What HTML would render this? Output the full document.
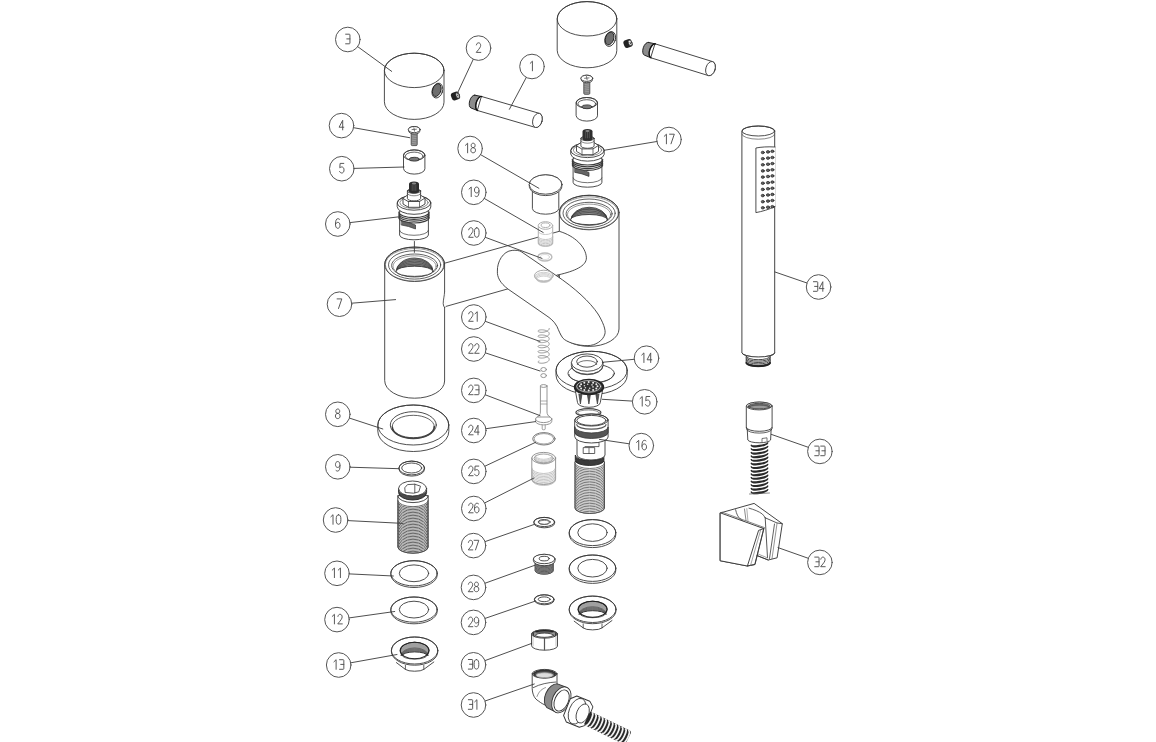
<!DOCTYPE html>
<html><head><meta charset="utf-8"><style>
html,body{margin:0;padding:0;background:#fff;font-family:"Liberation Sans",sans-serif;overflow:hidden;}
svg{display:block;}
</style></head><body>
<svg width="1156" height="742" viewBox="0 0 1156 742" stroke-linecap="round" stroke-linejoin="round">
<rect width="1156" height="742" fill="#fff"/>
<path d="M384.4,70.4 A29.8,17.2 0 0 1 444,70.4 L444,102.2 A29.8,17.2 0 0 1 384.4,102.2 Z" fill="#fff" stroke="#3a3a3a" stroke-width="0.9" />
<ellipse cx="414.2" cy="70.4" rx="29.8" ry="17.2" fill="none" stroke="#3a3a3a" stroke-width="0.9"/>
<g transform="translate(437.4,90.6) rotate(18)"><ellipse rx="5.2" ry="7.6" fill="#fff" stroke="#3a3a3a" stroke-width="0.9"/><ellipse cx="-0.7" cy="-0.3" rx="4.1" ry="6.6" fill="#6e6e6e" stroke="#222" stroke-width="0.9"/></g>
<path d="M557.2,18.8 A29.8,17.2 0 0 1 616.8,18.8 L616.8,50.6 A29.8,17.2 0 0 1 557.2,50.6 Z" fill="#fff" stroke="#3a3a3a" stroke-width="0.9" />
<ellipse cx="587" cy="18.8" rx="29.8" ry="17.2" fill="none" stroke="#3a3a3a" stroke-width="0.9"/>
<g transform="translate(610.2,39) rotate(18)"><ellipse rx="5.2" ry="7.6" fill="#fff" stroke="#3a3a3a" stroke-width="0.9"/><ellipse cx="-0.7" cy="-0.3" rx="4.1" ry="6.6" fill="#6e6e6e" stroke="#222" stroke-width="0.9"/></g>
<g transform="translate(455.5,96) rotate(-20)"><rect x="-4.3" y="-4" width="8.6" height="8" rx="2.8" fill="#222"/><ellipse cx="2.2" cy="0.2" rx="1.7" ry="2.9" fill="#eee" stroke="#222" stroke-width="0.6"/><ellipse cx="2.3" cy="0.4" rx="0.6" ry="1.2" fill="#444"/></g>
<g transform="translate(628,43.5) rotate(-20)"><rect x="-4.3" y="-4" width="8.6" height="8" rx="2.8" fill="#222"/><ellipse cx="2.2" cy="0.2" rx="1.7" ry="2.9" fill="#eee" stroke="#222" stroke-width="0.6"/><ellipse cx="2.3" cy="0.4" rx="0.6" ry="1.2" fill="#444"/></g>
<g transform="translate(473,101.6) rotate(16.27)"><path d="M7,-7.3 L67.1,-7.3 A4.6,7.3 0 0 1 67.1,7.3 L7,7.3 Z" fill="#fff" stroke="#3a3a3a" stroke-width="0.85"/><ellipse cx="67.1" cy="0" rx="4.6" ry="7.3" fill="#fff" stroke="#3a3a3a" stroke-width="0.85"/><path d="M0,-6.7 L7,-7.3 A3.6,7.3 0 0 0 7,7.3 L0,6.7 A3.4,6.7 0 0 1 0,-6.7 Z" fill="#8c8c8c" stroke="#222" stroke-width="0.9"/><path d="M7,-7.3 A3.6,7.3 0 0 0 7,7.3" fill="none" stroke="#111" stroke-width="1.3"/></g>
<g transform="translate(646.5,48.8) rotate(17.19)"><path d="M7,-7.3 L67,-7.3 A4.6,7.3 0 0 1 67,7.3 L7,7.3 Z" fill="#fff" stroke="#3a3a3a" stroke-width="0.85"/><ellipse cx="67" cy="0" rx="4.6" ry="7.3" fill="#fff" stroke="#3a3a3a" stroke-width="0.85"/><path d="M0,-6.7 L7,-7.3 A3.6,7.3 0 0 0 7,7.3 L0,6.7 A3.4,6.7 0 0 1 0,-6.7 Z" fill="#8c8c8c" stroke="#222" stroke-width="0.9"/><path d="M7,-7.3 A3.6,7.3 0 0 0 7,7.3" fill="none" stroke="#111" stroke-width="1.3"/></g>
<rect x="411.2" y="132.6" width="6" height="13" rx="1" fill="#9a9a9a" stroke="#3a3a3a" stroke-width="0.8"/>
<line x1="411.7" y1="134.6" x2="416.7" y2="135.4" stroke="#666" stroke-width="0.5"/>
<line x1="411.7" y1="136.8" x2="416.7" y2="137.6" stroke="#666" stroke-width="0.5"/>
<line x1="411.7" y1="139" x2="416.7" y2="139.8" stroke="#666" stroke-width="0.5"/>
<line x1="411.7" y1="141.2" x2="416.7" y2="142" stroke="#666" stroke-width="0.5"/>
<line x1="411.7" y1="143.4" x2="416.7" y2="144.2" stroke="#666" stroke-width="0.5"/>
<path d="M408.3,129.6 A5.9,3.1 0 0 1 420.1,129.6 L419.7,131.4 A5.5,2.6 0 0 1 408.7,131.4 Z" fill="#fff" stroke="#3a3a3a" stroke-width="0.9" />
<ellipse cx="414.2" cy="129.6" rx="5.9" ry="3.1" fill="#fff" stroke="#3a3a3a" stroke-width="0.9"/>
<line x1="412" y1="129.6" x2="416.4" y2="129.2" stroke="#555" stroke-width="0.8"/>
<line x1="413.9" y1="127.8" x2="414.5" y2="131.2" stroke="#555" stroke-width="0.8"/>
<rect x="583.8" y="81.3" width="6" height="13" rx="1" fill="#9a9a9a" stroke="#3a3a3a" stroke-width="0.8"/>
<line x1="584.3" y1="83.3" x2="589.3" y2="84.1" stroke="#666" stroke-width="0.5"/>
<line x1="584.3" y1="85.5" x2="589.3" y2="86.3" stroke="#666" stroke-width="0.5"/>
<line x1="584.3" y1="87.7" x2="589.3" y2="88.5" stroke="#666" stroke-width="0.5"/>
<line x1="584.3" y1="89.9" x2="589.3" y2="90.7" stroke="#666" stroke-width="0.5"/>
<line x1="584.3" y1="92.1" x2="589.3" y2="92.9" stroke="#666" stroke-width="0.5"/>
<path d="M580.9,78.3 A5.9,3.1 0 0 1 592.7,78.3 L592.3,80.1 A5.5,2.6 0 0 1 581.3,80.1 Z" fill="#fff" stroke="#3a3a3a" stroke-width="0.9" />
<ellipse cx="586.8" cy="78.3" rx="5.9" ry="3.1" fill="#fff" stroke="#3a3a3a" stroke-width="0.9"/>
<line x1="584.6" y1="78.3" x2="589" y2="77.9" stroke="#555" stroke-width="0.8"/>
<line x1="586.5" y1="76.5" x2="587.1" y2="79.9" stroke="#555" stroke-width="0.8"/>
<path d="M403.5,155.2 A10.7,5.3 0 0 1 424.9,155.2 L424.9,168.8 A10.7,5.3 0 0 1 403.5,168.8 Z" fill="#fff" stroke="#3a3a3a" stroke-width="0.9" />
<ellipse cx="414.2" cy="155.2" rx="10.7" ry="5.3" fill="none" stroke="#3a3a3a" stroke-width="0.9"/>
<ellipse cx="414.2" cy="156.2" rx="8.9" ry="4.1" fill="none" stroke="#3a3a3a" stroke-width="0.8"/>
<ellipse cx="414.2" cy="159.2" rx="5" ry="1.9" fill="#777" stroke="#333" stroke-width="0.9"/>
<path d="M576.1,102.8 A10.7,5.3 0 0 1 597.5,102.8 L597.5,115.8 A10.7,5.3 0 0 1 576.1,115.8 Z" fill="#fff" stroke="#3a3a3a" stroke-width="0.9" />
<ellipse cx="586.8" cy="102.8" rx="10.7" ry="5.3" fill="none" stroke="#3a3a3a" stroke-width="0.9"/>
<ellipse cx="586.8" cy="103.8" rx="8.9" ry="4.1" fill="none" stroke="#3a3a3a" stroke-width="0.8"/>
<ellipse cx="586.8" cy="106.8" rx="5" ry="1.9" fill="#777" stroke="#333" stroke-width="0.9"/>
<path d="M399.6,211.5 L399.6,235 A14.4,4.8 0 0 0 428.4,235 L428.4,211.5 Z" fill="#fff" stroke="#3a3a3a" stroke-width="0.9" />
<path d="M399.6,230.5 A14.4,4.8 0 0 0 428.4,230.5" fill="none" stroke="#3a3a3a" stroke-width="0.7" />
<path d="M398.8,212 A15.2,5.6 0 0 0 429.2,212 M398.8,213.8 A15.2,5.6 0 0 0 429.2,213.8 M398.8,215.6 A15.2,5.6 0 0 0 429.2,215.6 M398.8,217.4 A15.2,5.6 0 0 0 429.2,217.4 " fill="none" stroke="#3a3a3a" stroke-width="1.2" />
<path d="M401.5,221 l7,1.5 l7,2.5 l0,4 l-7,-2.5 l-7,-1.5 Z" fill="#666" stroke="#333" stroke-width="0.7"/>
<path d="M397.2,202.9 A16.75,7.3 0 0 1 430.8,202.9 L430.8,207 A16.75,7.3 0 0 1 397.2,207 Z" fill="#fff" stroke="#3a3a3a" stroke-width="0.9" />
<ellipse cx="414" cy="202.9" rx="16.8" ry="7.3" fill="none" stroke="#3a3a3a" stroke-width="0.9"/>
<ellipse cx="414" cy="202.7" rx="14.2" ry="5.8" fill="none" stroke="#666" stroke-width="0.7"/>
<path d="M403,198 L403,204 L408.5,207.3 L419.5,207.3 L425,204 L425,198 Z" fill="#fff" stroke="#3a3a3a" stroke-width="0.9" />
<path d="M403,198 L408.5,194.5 L419.5,194.5 L425,198 L419.5,201.5 L408.5,201.5 Z" fill="#fff" stroke="#3a3a3a" stroke-width="0.9" />
<line x1="408.5" y1="201.5" x2="408.5" y2="207.3" stroke="#3a3a3a" stroke-width="0.7"/>
<line x1="419.5" y1="201.5" x2="419.5" y2="207.3" stroke="#3a3a3a" stroke-width="0.7"/>
<path d="M407.4,191 L407.4,198.5 A6.6,2.4 0 0 0 420.6,198.5 L420.6,191 Z" fill="#fff" stroke="#3a3a3a" stroke-width="0.9" />
<ellipse cx="414" cy="191" rx="6.6" ry="2.3" fill="none" stroke="#3a3a3a" stroke-width="0.9"/>
<path d="M407.4,193.5 A6.6,2.3 0 0 0 420.6,193.5" fill="none" stroke="#3a3a3a" stroke-width="0.6" />
<path d="M409,184 Q409,181.5 414,181.5 Q419,181.5 419,184 L419,191.5 A5,1.8 0 0 1 409,191.5 Z" fill="#2e2e2e"/>
<ellipse cx="414" cy="183.5" rx="2.2" ry="1" fill="#888"/>
<line x1="412.2" y1="185" x2="412.2" y2="190.5" stroke="#777" stroke-width="0.5"/>
<line x1="414" y1="185" x2="414" y2="190.5" stroke="#777" stroke-width="0.5"/>
<line x1="415.8" y1="185" x2="415.8" y2="190.5" stroke="#777" stroke-width="0.5"/>
<path d="M573.1,158.9 L573.1,182.4 A14.4,4.8 0 0 0 601.9,182.4 L601.9,158.9 Z" fill="#fff" stroke="#3a3a3a" stroke-width="0.9" />
<path d="M573.1,177.9 A14.4,4.8 0 0 0 601.9,177.9" fill="none" stroke="#3a3a3a" stroke-width="0.7" />
<path d="M572.3,159.4 A15.2,5.6 0 0 0 602.7,159.4 M572.3,161.2 A15.2,5.6 0 0 0 602.7,161.2 M572.3,163 A15.2,5.6 0 0 0 602.7,163 M572.3,164.8 A15.2,5.6 0 0 0 602.7,164.8 " fill="none" stroke="#3a3a3a" stroke-width="1.2" />
<path d="M575,168.4 l7,1.5 l7,2.5 l0,4 l-7,-2.5 l-7,-1.5 Z" fill="#666" stroke="#333" stroke-width="0.7"/>
<path d="M570.8,150.3 A16.75,7.3 0 0 1 604.2,150.3 L604.2,154.4 A16.75,7.3 0 0 1 570.8,154.4 Z" fill="#fff" stroke="#3a3a3a" stroke-width="0.9" />
<ellipse cx="587.5" cy="150.3" rx="16.8" ry="7.3" fill="none" stroke="#3a3a3a" stroke-width="0.9"/>
<ellipse cx="587.5" cy="150.1" rx="14.2" ry="5.8" fill="none" stroke="#666" stroke-width="0.7"/>
<path d="M576.5,145.4 L576.5,151.4 L582,154.7 L593,154.7 L598.5,151.4 L598.5,145.4 Z" fill="#fff" stroke="#3a3a3a" stroke-width="0.9" />
<path d="M576.5,145.4 L582,141.9 L593,141.9 L598.5,145.4 L593,148.9 L582,148.9 Z" fill="#fff" stroke="#3a3a3a" stroke-width="0.9" />
<line x1="582" y1="148.9" x2="582" y2="154.7" stroke="#3a3a3a" stroke-width="0.7"/>
<line x1="593" y1="148.9" x2="593" y2="154.7" stroke="#3a3a3a" stroke-width="0.7"/>
<path d="M580.9,138.4 L580.9,145.9 A6.6,2.4 0 0 0 594.1,145.9 L594.1,138.4 Z" fill="#fff" stroke="#3a3a3a" stroke-width="0.9" />
<ellipse cx="587.5" cy="138.4" rx="6.6" ry="2.3" fill="none" stroke="#3a3a3a" stroke-width="0.9"/>
<path d="M580.9,140.9 A6.6,2.3 0 0 0 594.1,140.9" fill="none" stroke="#3a3a3a" stroke-width="0.6" />
<path d="M582.5,131.4 Q582.5,128.9 587.5,128.9 Q592.5,128.9 592.5,131.4 L592.5,138.9 A5,1.8 0 0 1 582.5,138.9 Z" fill="#2e2e2e"/>
<ellipse cx="587.5" cy="130.9" rx="2.2" ry="1" fill="#888"/>
<line x1="585.7" y1="132.4" x2="585.7" y2="137.9" stroke="#777" stroke-width="0.5"/>
<line x1="587.5" y1="132.4" x2="587.5" y2="137.9" stroke="#777" stroke-width="0.5"/>
<line x1="589.3" y1="132.4" x2="589.3" y2="137.9" stroke="#777" stroke-width="0.5"/>
<path d="M377.8,425 A35.5,20 0 0 1 448.8,425 L448.8,431.5 A35.5,20 0 0 1 377.8,431.5 Z" fill="#fff" stroke="#3a3a3a" stroke-width="0.9" />
<ellipse cx="413.3" cy="425" rx="35.5" ry="20" fill="none" stroke="#3a3a3a" stroke-width="0.9"/>
<ellipse cx="413.3" cy="425" rx="23" ry="13.3" fill="none" stroke="#3a3a3a" stroke-width="0.9"/>
<path d="M392.3,427 A21,11.5 0 0 0 434.3,427" fill="none" stroke="#444" stroke-width="1.6" />
<ellipse cx="413.3" cy="426.5" rx="21" ry="11.2" fill="none" stroke="#3a3a3a" stroke-width="0.8"/>
<path d="M398.9,468 A12.8,6.9 0 0 1 424.5,468 L424.5,469.2 A12.8,6.9 0 0 1 398.9,469.2 Z" fill="#fff" stroke="#3a3a3a" stroke-width="0.9" />
<ellipse cx="411.7" cy="468" rx="12.8" ry="6.9" fill="none" stroke="#3a3a3a" stroke-width="0.9"/>
<ellipse cx="411.7" cy="468" rx="10" ry="5" fill="none" stroke="#3a3a3a" stroke-width="0.9"/>
<path d="M397.8,496 L397.8,547 A15.2,6.2 0 0 0 428.2,547 L428.2,496 Z" fill="#fff" stroke="#3a3a3a" stroke-width="0.9" />
<path d="M397.8,500.5 A15.2,6.2 0 0 0 428.2,500.5 M397.8,502 A15.2,6.2 0 0 0 428.2,502 M397.8,503.5 A15.2,6.2 0 0 0 428.2,503.5 M397.8,505 A15.2,6.2 0 0 0 428.2,505 M397.8,506.5 A15.2,6.2 0 0 0 428.2,506.5 M397.8,508 A15.2,6.2 0 0 0 428.2,508 M397.8,509.5 A15.2,6.2 0 0 0 428.2,509.5 M397.8,511 A15.2,6.2 0 0 0 428.2,511 M397.8,512.5 A15.2,6.2 0 0 0 428.2,512.5 M397.8,514 A15.2,6.2 0 0 0 428.2,514 M397.8,515.5 A15.2,6.2 0 0 0 428.2,515.5 M397.8,517 A15.2,6.2 0 0 0 428.2,517 M397.8,518.5 A15.2,6.2 0 0 0 428.2,518.5 M397.8,520 A15.2,6.2 0 0 0 428.2,520 M397.8,521.5 A15.2,6.2 0 0 0 428.2,521.5 M397.8,523 A15.2,6.2 0 0 0 428.2,523 M397.8,524.5 A15.2,6.2 0 0 0 428.2,524.5 M397.8,526 A15.2,6.2 0 0 0 428.2,526 M397.8,527.5 A15.2,6.2 0 0 0 428.2,527.5 M397.8,529 A15.2,6.2 0 0 0 428.2,529 M397.8,530.5 A15.2,6.2 0 0 0 428.2,530.5 M397.8,532 A15.2,6.2 0 0 0 428.2,532 M397.8,533.5 A15.2,6.2 0 0 0 428.2,533.5 M397.8,535 A15.2,6.2 0 0 0 428.2,535 M397.8,536.5 A15.2,6.2 0 0 0 428.2,536.5 M397.8,538 A15.2,6.2 0 0 0 428.2,538 M397.8,539.5 A15.2,6.2 0 0 0 428.2,539.5 M397.8,541 A15.2,6.2 0 0 0 428.2,541 M397.8,542.5 A15.2,6.2 0 0 0 428.2,542.5 M397.8,544 A15.2,6.2 0 0 0 428.2,544 M397.8,545.5 A15.2,6.2 0 0 0 428.2,545.5 M397.8,547 A15.2,6.2 0 0 0 428.2,547 " fill="none" stroke="#4a4a4a" stroke-width="0.85" />
<path d="M397.8,496 A15.2,6.6 0 0 0 428.2,496" fill="none" stroke="#3a3a3a" stroke-width="0.9" />
<path d="M398.6,488.5 L398.6,492.5 A14,7.5 0 0 0 426.6,492.5 L426.6,488.5 A14,7.5 0 0 1 398.6,488.5 Z" fill="#4a4a4a" stroke="#222" stroke-width="0.9" />
<ellipse cx="412.6" cy="488.5" rx="14" ry="7.5" fill="#fff" stroke="#3a3a3a" stroke-width="0.9"/>
<path d="M405,487.5 L407.5,484.6 L414.8,484.2 L420.5,486.2 L418.8,491.8 L413.5,493.2 L405.6,492.5 Z" fill="#fff" stroke="#333" stroke-width="0.8"/>
<line x1="414.8" y1="484.2" x2="414.8" y2="492.8" stroke="#3a3a3a" stroke-width="0.8"/>
<path d="M390.8,573.3 A23.2,12.6 0 0 1 437.2,573.3 L437.2,574.9 A23.2,12.6 0 0 1 390.8,574.9 Z" fill="#fff" stroke="#3a3a3a" stroke-width="0.9" />
<ellipse cx="414" cy="573.3" rx="23.2" ry="12.6" fill="none" stroke="#3a3a3a" stroke-width="0.9"/>
<ellipse cx="414" cy="573.3" rx="14.7" ry="8.4" fill="none" stroke="#3a3a3a" stroke-width="0.9"/>
<path d="M390.8,609.6 A23.2,12.6 0 0 1 437.2,609.6 L437.2,611.2 A23.2,12.6 0 0 1 390.8,611.2 Z" fill="#fff" stroke="#3a3a3a" stroke-width="0.9" />
<ellipse cx="414" cy="609.6" rx="23.2" ry="12.6" fill="none" stroke="#3a3a3a" stroke-width="0.9"/>
<ellipse cx="414" cy="609.6" rx="14.7" ry="8.4" fill="none" stroke="#3a3a3a" stroke-width="0.9"/>
<path d="M396.4,662.6 L405.4,669.4 A10,3 0 0 0 423.8,669.4 L433.8,662 Z" fill="#fff"/>
<path d="M396.4,662.6 L405.4,669.4 A10,3 0 0 0 423.8,669.4 L433.8,662" fill="none" stroke="#3a3a3a" stroke-width="0.9" />
<line x1="405.4" y1="665.4" x2="405.4" y2="669.4" stroke="#3a3a3a" stroke-width="0.8"/>
<line x1="423.8" y1="665.4" x2="423.8" y2="669.4" stroke="#3a3a3a" stroke-width="0.8"/>
<path d="M391.4,650.5 A23.2,13.5 0 0 1 437.8,650.5 L437.8,651.7 A23.2,13.5 0 0 1 391.4,651.7 Z" fill="#fff" stroke="#3a3a3a" stroke-width="0.9" />
<ellipse cx="414.6" cy="650.5" rx="23.2" ry="13.5" fill="none" stroke="#3a3a3a" stroke-width="0.9"/>
<path d="M400.2,650.5 A14.4,8.3 0 0 1 429,650.5 L427,655.5 A12.4,3.6 0 0 0 402.2,655.5 Z" fill="#a0a0a0" stroke="#222" stroke-width="0.9" />
<path d="M401.9,655.5 A12.7,4.6 0 0 1 427.3,655.5" fill="none" stroke="#444" stroke-width="0.6"/>
<path d="M401.5,655.5 A13.1,5.6 0 0 1 427.7,655.5" fill="none" stroke="#444" stroke-width="0.6"/>
<path d="M401.2,655.5 A13.4,6.6 0 0 1 428,655.5" fill="none" stroke="#444" stroke-width="0.6"/>
<path d="M400.8,655.5 A13.8,7.6 0 0 1 428.4,655.5" fill="none" stroke="#444" stroke-width="0.6"/>
<ellipse cx="414.6" cy="650.5" rx="14.4" ry="8.3" fill="none" stroke="#222" stroke-width="1.1"/>
<path d="M402.2,655.5 A12.4,3.6 0 0 0 427,655.5" fill="none" stroke="#3a3a3a" stroke-width="0.8" />
<path d="M532.4,192 L532.4,208.5 A13.2,5.7 0 0 0 558.8,208.5 L558.8,192" fill="#fff" stroke="#3a3a3a" stroke-width="0.9" />
<path d="M529.2,184.5 A16.4,9.7 0 0 1 562,184.5 L561.6,188 A16.2,9 0 0 1 529.6,188 Z" fill="#fff" stroke="#3a3a3a" stroke-width="0.9" />
<ellipse cx="545.6" cy="184.5" rx="16.4" ry="9.7" fill="#fff" stroke="#3a3a3a" stroke-width="0.9"/>
<path d="M559.3,212.6 A29.85,17.4 0 0 1 619,212.6 L619,329 A29.85,17.4 0 0 1 559.3,329 Z" fill="#fff" stroke="#3a3a3a" stroke-width="0.9" />
<ellipse cx="589.1" cy="212.6" rx="29.9" ry="17.2" fill="none" stroke="#3a3a3a" stroke-width="0.9"/>
<ellipse cx="589.1" cy="213.1" rx="29.2" ry="16.3" fill="none" stroke="#555" stroke-width="0.6"/>
<ellipse cx="589.1" cy="213.2" rx="26.1" ry="14.2" fill="none" stroke="#3a3a3a" stroke-width="0.8"/>
<ellipse cx="589.1" cy="213.8" rx="23" ry="11.5" fill="none" stroke="#3a3a3a" stroke-width="0.8"/>
<ellipse cx="589.1" cy="214.5" rx="21.6" ry="10.4" fill="none" stroke="#555" stroke-width="0.6"/>
<path d="M570.8,219.6 A18.4,13.3 0 0 1 607.5,219.6 A18.4,5.1 0 0 0 570.8,219.6 Z" fill="#8a8a8a" stroke="#333" stroke-width="0.8" />
<path d="M570.8,219.6 A18.4,11.9 0 0 1 607.5,219.6" fill="none" stroke="#333" stroke-width="0.6"/>
<path d="M570.9,219.6 A18.2,10.3 0 0 1 607.4,219.6" fill="none" stroke="#333" stroke-width="0.6"/>
<path d="M571,219.6 A18.1,8.7 0 0 1 607.2,219.6" fill="none" stroke="#333" stroke-width="0.6"/>
<path d="M571.2,219.6 A17.9,7.1 0 0 1 607.1,219.6" fill="none" stroke="#333" stroke-width="0.6"/>
<path d="M571.4,219.6 A17.8,5.5 0 0 1 606.9,219.6" fill="none" stroke="#333" stroke-width="0.6"/>
<ellipse cx="589.1" cy="219.6" rx="18.4" ry="5.1" fill="#fff" stroke="#3a3a3a" stroke-width="0.9"/>
<path d="M440,264.5 L559.3,231.3 C575,236 586,247 586.4,257.8 C586.5,266 575,271 558.2,274.9 L507.8,288.9 L440,308.1 Z" fill="#fff" stroke="#3a3a3a" stroke-width="0.9" />
<line x1="558.2" y1="274.9" x2="559.5" y2="277.5" stroke="#3a3a3a" stroke-width="0.8"/>
<ellipse cx="544.9" cy="257" rx="7" ry="4" fill="none" stroke="#bbb" stroke-width="1.4"/>
<ellipse cx="544.9" cy="257" rx="4.5" ry="2.5" fill="none" stroke="#ccc" stroke-width="0.7"/>
<path d="M538.3,226 L538.3,243 A7.2,3 0 0 0 552.7,243 L552.7,226" fill="#fff" stroke="#b0b0b0" stroke-width="1.0" />
<ellipse cx="545.5" cy="225.5" rx="7.2" ry="3.8" fill="#fff" stroke="#b0b0b0" stroke-width="1.0"/>
<ellipse cx="545.5" cy="225.2" rx="4.4" ry="2.3" fill="none" stroke="#b0b0b0" stroke-width="1.0"/>
<path d="M538.3,231.5 A7.2,3 0 0 0 552.7,231.5" fill="none" stroke="#bbb" stroke-width="0.8" />
<path d="M538.1,236.5 A7.4,3 0 0 0 552.9,236.5 M538.1,237.9 A7.4,3 0 0 0 552.9,237.9 M538.1,239.3 A7.4,3 0 0 0 552.9,239.3 M538.1,240.7 A7.4,3 0 0 0 552.9,240.7 M538.1,242.1 A7.4,3 0 0 0 552.9,242.1 M538.1,243.5 A7.4,3 0 0 0 552.9,243.5 " fill="none" stroke="#b8b8b8" stroke-width="0.8" />
<path d="M507.8,288.9 C500,283 497,277 497.4,271.1 C497,262 503,251 512.2,250.4 C516,250 519,250.5 521,251.5 L555.3,274.9 C575,288 590,302 598,314 C603,322 606,330 604.9,334 C603,341 595,345.6 587.9,345.6 C578,346 566,342 562.7,337.9 C560,334 559,331 557,326.5 C554,321 550,318 546.4,315.6 Z" fill="#fff" stroke="#3a3a3a" stroke-width="0.9" />
<ellipse cx="543.8" cy="275.8" rx="9.4" ry="5.6" fill="none" stroke="#aaa" stroke-width="1.0"/>
<ellipse cx="543.8" cy="276.6" rx="8.6" ry="4.3" fill="none" stroke="#bbb" stroke-width="0.7"/>
<ellipse cx="543.8" cy="277.5" rx="8.1" ry="3.9" fill="none" stroke="#bbb" stroke-width="0.7"/>
<ellipse cx="543.8" cy="278.4" rx="7.6" ry="3.6" fill="none" stroke="#bbb" stroke-width="0.7"/>
<ellipse cx="543.8" cy="279.3" rx="7.1" ry="3.2" fill="none" stroke="#bbb" stroke-width="0.7"/>
<path d="M384.7,264.3 A29.95,17.2 0 0 1 444.6,264.3 L444.6,381 A29.95,17.2 0 0 1 384.7,381 Z" fill="#fff" stroke="#3a3a3a" stroke-width="0.9" />
<ellipse cx="414.6" cy="264.3" rx="29.9" ry="17.2" fill="none" stroke="#3a3a3a" stroke-width="0.9"/>
<ellipse cx="414.6" cy="264.8" rx="29.2" ry="16.3" fill="none" stroke="#555" stroke-width="0.6"/>
<ellipse cx="414.6" cy="264.9" rx="26.1" ry="14.2" fill="none" stroke="#3a3a3a" stroke-width="0.8"/>
<ellipse cx="414.6" cy="265.5" rx="23" ry="11.5" fill="none" stroke="#3a3a3a" stroke-width="0.8"/>
<ellipse cx="414.6" cy="266.2" rx="21.6" ry="10.4" fill="none" stroke="#555" stroke-width="0.6"/>
<path d="M396.2,271.3 A18.4,13.3 0 0 1 433,271.3 A18.4,5.1 0 0 0 396.2,271.3 Z" fill="#8a8a8a" stroke="#333" stroke-width="0.8" />
<path d="M396.2,271.3 A18.4,11.9 0 0 1 433,271.3" fill="none" stroke="#333" stroke-width="0.6"/>
<path d="M396.4,271.3 A18.2,10.3 0 0 1 432.9,271.3" fill="none" stroke="#333" stroke-width="0.6"/>
<path d="M396.5,271.3 A18.1,8.7 0 0 1 432.8,271.3" fill="none" stroke="#333" stroke-width="0.6"/>
<path d="M396.7,271.3 A17.9,7.1 0 0 1 432.6,271.3" fill="none" stroke="#333" stroke-width="0.6"/>
<path d="M396.8,271.3 A17.8,5.5 0 0 1 432.4,271.3" fill="none" stroke="#333" stroke-width="0.6"/>
<ellipse cx="414.6" cy="271.3" rx="18.4" ry="5.1" fill="#fff" stroke="#3a3a3a" stroke-width="0.9"/>
<line x1="414.4" y1="241.5" x2="414.4" y2="252.4" stroke="#3a3a3a" stroke-width="0.9"/>
<path d="M443.6,291.5 L445.7,291.5 L445.7,307 L443.6,307 Z" fill="#fff"/>
<path d="M444.6,291.5 C444.5,296 443.1,300 443.2,303.7 C443.3,305.5 443.9,306.8 444.6,307.5" fill="none" stroke="#3a3a3a" stroke-width="0.85" />
<path d="M549.20,328.50 L549.10,329.10 L548.81,329.69 L548.33,330.25 L547.68,330.76 L546.89,331.21 L545.98,331.60 L544.99,331.91 L543.95,332.13 L542.90,332.27 L541.87,332.33 L540.90,332.30 L540.03,332.20 L539.29,332.04 L538.69,331.82 L538.27,331.56 L538.04,331.27 L538.01,330.98 L538.18,330.68 L538.53,330.41 L539.07,330.18 L539.77,329.99 L540.60,329.87 L541.54,329.82 L542.55,329.85 L543.60,329.96 L544.65,330.16 L545.66,330.44 L546.60,330.80 L547.43,331.23 L548.13,331.72 L548.67,332.27 L549.02,332.85 L549.19,333.45 L549.16,334.05 L548.93,334.65 L548.51,335.22 L547.91,335.75 L547.17,336.22 L546.30,336.63 L545.33,336.96 L544.30,337.22 L543.25,337.38 L542.21,337.47 L541.22,337.47 L540.31,337.39 L539.52,337.25 L538.87,337.05 L538.39,336.80 L538.10,336.52 L538.00,336.23 L538.10,335.93 L538.39,335.65 L538.87,335.40 L539.52,335.20 L540.31,335.06 L541.22,334.98 L542.21,334.98 L543.25,335.07 L544.30,335.23 L545.33,335.49 L546.30,335.82 L547.17,336.23 L547.91,336.70 L548.51,337.23 L548.93,337.80 L549.16,338.40 L549.19,339.00 L549.02,339.60 L548.67,340.18 L548.13,340.73 L547.43,341.22 L546.60,341.65 L545.66,342.01 L544.65,342.29 L543.60,342.49 L542.55,342.60 L541.54,342.63 L540.60,342.58 L539.77,342.46 L539.07,342.27 L538.53,342.04 L538.18,341.77 L538.01,341.47 L538.04,341.18 L538.27,340.89 L538.69,340.63 L539.29,340.41 L540.03,340.25 L540.90,340.15 L541.87,340.12 L542.90,340.18 L543.95,340.32 L544.99,340.54 L545.98,340.85 L546.89,341.24 L547.68,341.69 L548.33,342.20 L548.81,342.76 L549.10,343.35 L549.20,343.95 L549.10,344.55 L548.81,345.14 L548.33,345.70 L547.68,346.21 L546.89,346.66 L545.98,347.05 L544.99,347.36 L543.95,347.58 L542.90,347.72 L541.87,347.78 L540.90,347.75 L540.03,347.65 L539.29,347.49 L538.69,347.27 L538.27,347.01 L538.04,346.72 L538.01,346.43 L538.18,346.13 L538.53,345.86 L539.07,345.63 L539.77,345.44 L540.60,345.32 L541.54,345.27 L542.55,345.30 L543.60,345.41 L544.65,345.61 L545.66,345.89 L546.60,346.25 L547.43,346.68 L548.13,347.17 L548.67,347.72 L549.02,348.30 L549.19,348.90 L549.16,349.50 L548.93,350.10 L548.51,350.67 L547.91,351.20 L547.17,351.67 L546.30,352.08 L545.33,352.41 L544.30,352.67 L543.25,352.83 L542.21,352.92 L541.22,352.92 L540.31,352.84 L539.52,352.70 L538.87,352.50 L538.39,352.25 L538.10,351.97 L538.00,351.68 L538.10,351.38 L538.39,351.10 L538.87,350.85 L539.52,350.65 L540.31,350.51 L541.22,350.43 L542.21,350.43 L543.25,350.52 L544.30,350.68 L545.33,350.94 L546.30,351.27 L547.17,351.68 L547.91,352.15 L548.51,352.68 L548.93,353.25 L549.16,353.85 L549.19,354.45 L549.02,355.05 L548.67,355.63 L548.13,356.18 L547.43,356.67 L546.60,357.10 L545.66,357.46 L544.65,357.74 L543.60,357.94 L542.55,358.05 L541.54,358.08 L540.60,358.03 L539.77,357.91 L539.07,357.72 L538.53,357.49 L538.18,357.22 L538.01,356.92 L538.04,356.63 L538.27,356.34 L538.69,356.08 L539.29,355.86 L540.03,355.70 L540.90,355.60 L541.87,355.57 L542.90,355.63 L543.95,355.77 L544.99,355.99 L545.98,356.30 L546.89,356.69 L547.68,357.14 L548.33,357.65 L548.81,358.21 L549.10,358.80 L549.20,359.40 L549.10,360.00 L548.81,360.59 L548.33,361.15 L547.68,361.66 L546.89,362.11 L545.98,362.50 L544.99,362.81 L543.95,363.03 L542.90,363.17 L541.87,363.23 L540.90,363.20 L540.03,363.10 L539.29,362.94 L538.69,362.72 L538.27,362.46 L538.04,362.17 L538.01,361.88 L538.18,361.58 L538.53,361.31 L539.07,361.08" fill="none" stroke="#9a9a9a" stroke-width="1.0" />
<ellipse cx="543.6" cy="369.5" rx="2.8" ry="2" fill="none" stroke="#8a8a8a" stroke-width="0.9"/>
<ellipse cx="543.6" cy="375.6" rx="2.8" ry="2" fill="none" stroke="#8a8a8a" stroke-width="0.9"/>
<path d="M542.2,422 L542.2,429 A1.5,0.8 0 0 0 545.2,429 L545.2,422" fill="#fff" stroke="#8a8a8a" stroke-width="0.8" />
<path d="M535.6,419 L535.6,421.3 A8.1,3.6 0 0 0 551.8,421.3 L551.8,419" fill="#fff" stroke="#8a8a8a" stroke-width="0.9" />
<ellipse cx="543.7" cy="419" rx="8.1" ry="3.6" fill="#fff" stroke="#8a8a8a" stroke-width="0.9"/>
<path d="M540.4,386 L540.4,412 C540.4,414.5 539,416 537.5,417 L549.9,417 C548.4,416 547,414.5 547,412 L547,386" fill="#fff" stroke="#8a8a8a" stroke-width="0.9" />
<ellipse cx="543.7" cy="386" rx="3.3" ry="1.4" fill="#fff" stroke="#8a8a8a" stroke-width="0.9"/>
<line x1="540.6" y1="401" x2="546.8" y2="401" stroke="#8a8a8a" stroke-width="0.7"/>
<line x1="540.6" y1="404" x2="546.8" y2="404" stroke="#8a8a8a" stroke-width="0.7"/>
<ellipse cx="543.9" cy="438.8" rx="11.2" ry="6.2" fill="none" stroke="#777" stroke-width="1"/>
<ellipse cx="543.9" cy="438.8" rx="9.8" ry="5.2" fill="none" stroke="#888" stroke-width="0.8"/>
<path d="M531.8,458 L531.8,479 A11.9,5.5 0 0 0 555.6,479 L555.6,458" fill="#fff" stroke="#8a8a8a" stroke-width="0.9" />
<ellipse cx="543.7" cy="458" rx="11.9" ry="5.6" fill="none" stroke="#8a8a8a" stroke-width="0.9"/>
<ellipse cx="543.7" cy="458.4" rx="9.6" ry="4.4" fill="none" stroke="#8a8a8a" stroke-width="0.8"/>
<path d="M535.2,455.5 A8.5,3.8 0 0 0 552.2,455.5 M535.2,456.7 A8.5,3.8 0 0 0 552.2,456.7 M535.2,457.9 A8.5,3.8 0 0 0 552.2,457.9 M535.2,459.1 A8.5,3.8 0 0 0 552.2,459.1 M535.2,460.3 A8.5,3.8 0 0 0 552.2,460.3 " fill="none" stroke="#aaa" stroke-width="0.6" />
<path d="M531.8,468 A11.9,5.5 0 0 0 555.6,468 M531.8,469.5 A11.9,5.5 0 0 0 555.6,469.5 M531.8,471 A11.9,5.5 0 0 0 555.6,471 M531.8,472.5 A11.9,5.5 0 0 0 555.6,472.5 M531.8,474 A11.9,5.5 0 0 0 555.6,474 M531.8,475.5 A11.9,5.5 0 0 0 555.6,475.5 M531.8,477 A11.9,5.5 0 0 0 555.6,477 M531.8,478.5 A11.9,5.5 0 0 0 555.6,478.5 M531.8,480 A11.9,5.5 0 0 0 555.6,480 " fill="none" stroke="#aaa" stroke-width="0.7" />
<path d="M533.8,522 A10.4,4.6 0 0 1 554.6,522 L554.6,523.2 A10.4,4.6 0 0 1 533.8,523.2 Z" fill="#fff" stroke="#3a3a3a" stroke-width="0.9" />
<ellipse cx="544.2" cy="522" rx="10.4" ry="4.6" fill="none" stroke="#3a3a3a" stroke-width="0.9"/>
<ellipse cx="544.2" cy="522" rx="6" ry="2.5" fill="none" stroke="#3a3a3a" stroke-width="0.9"/>
<ellipse cx="544.2" cy="522.3" rx="5.2" ry="2" fill="none" stroke="#777" stroke-width="0.9"/>
<path d="M535.1,562 L535.1,570.5 A9.1,3.5 0 0 0 553.3,570.5 L553.3,562" fill="#fff" stroke="#3a3a3a" stroke-width="0.9" />
<path d="M535.1,563 L535.1,570.5 A9.1,3.5 0 0 0 553.3,570.5 L553.3,563 Z" fill="#9a9a9a"/>
<path d="M535.1,563 A9.1,3.5 0 0 0 553.3,563 M535.1,564.3 A9.1,3.5 0 0 0 553.3,564.3 M535.1,565.6 A9.1,3.5 0 0 0 553.3,565.6 M535.1,566.9 A9.1,3.5 0 0 0 553.3,566.9 M535.1,568.2 A9.1,3.5 0 0 0 553.3,568.2 M535.1,569.5 A9.1,3.5 0 0 0 553.3,569.5 M535.1,570.8 A9.1,3.5 0 0 0 553.3,570.8 " fill="none" stroke="#444" stroke-width="0.7" />
<path d="M533.4,559 A10.8,4.7 0 0 1 555,559 L555,561 A10.8,4.7 0 0 1 533.4,561 Z" fill="#fff" stroke="#3a3a3a" stroke-width="0.9" />
<ellipse cx="544.2" cy="559" rx="10.8" ry="4.7" fill="#fff" stroke="#3a3a3a" stroke-width="0.9"/>
<ellipse cx="544.2" cy="558.6" rx="5" ry="2.3" fill="none" stroke="#3a3a3a" stroke-width="0.9"/>
<path d="M534.4,599.3 A9.8,4.5 0 0 1 554,599.3 L554,600.3 A9.8,4.5 0 0 1 534.4,600.3 Z" fill="#fff" stroke="#3a3a3a" stroke-width="0.9" />
<ellipse cx="544.2" cy="599.3" rx="9.8" ry="4.5" fill="none" stroke="#3a3a3a" stroke-width="0.9"/>
<ellipse cx="544.2" cy="599.3" rx="6" ry="2.4" fill="none" stroke="#3a3a3a" stroke-width="0.9"/>
<path d="M531.5,634 A13,4.2 0 0 1 557.5,634 L557.5,646 A13,4.2 0 0 1 531.5,646 Z" fill="#fff" stroke="#3a3a3a" stroke-width="0.9" />
<ellipse cx="544.5" cy="634" rx="13" ry="4.2" fill="none" stroke="#3a3a3a" stroke-width="0.9"/>
<path d="M533,634 A11.5,3.4 0 0 1 556,634 A11.5,3.4 0 0 1 533,634 Z" fill="#666" stroke="#222" stroke-width="1.4" />
<path d="M534,631.8 A10.5,2.6 0 0 0 555,631.8 M534,632.9 A10.5,2.6 0 0 0 555,632.9 M534,634 A10.5,2.6 0 0 0 555,634 M534,635.1 A10.5,2.6 0 0 0 555,635.1 " fill="none" stroke="#ccc" stroke-width="0.6" />
<ellipse cx="544.5" cy="635.2" rx="9" ry="2.1" fill="#fff" stroke="#3a3a3a" stroke-width="0.9"/>
<line x1="544.5" y1="638.2" x2="544.5" y2="649.8" stroke="#555" stroke-width="1.2"/>
<line x1="533" y1="646" x2="533" y2="636" stroke="#999" stroke-width="0.6"/>
<line x1="556" y1="646" x2="556" y2="636" stroke="#999" stroke-width="0.6"/>
<path d="M532.2,673.8 L532.2,688.7 C532.5,695 535,699 538.3,700.9 C541,703 543.5,704.5 546,705.3 L557,692 L557,673.8 Z" fill="#fff" stroke="#3a3a3a" stroke-width="0.9" />
<ellipse cx="544.6" cy="673.8" rx="12.4" ry="4.4" fill="none" stroke="#3a3a3a" stroke-width="0.9"/>
<path d="M534,674 A10.6,3.6 0 0 1 555.2,674 A10.6,3.4 0 0 1 534,674 Z" fill="#555" stroke="#333" stroke-width="1.6" />
<ellipse cx="544.6" cy="675.2" rx="8.5" ry="2.4" fill="#ddd" stroke="#aaa" stroke-width="0.8"/>
<path d="M533.3,687.6 C540,684 548,682.5 556,682" fill="none" stroke="#3a3a3a" stroke-width="0.8" />
<path d="M537,696.5 C539,691 542,689 545.5,687.6" fill="none" stroke="#666" stroke-width="0.7" />
<g transform="translate(565,701.5) rotate(24)"><path d="M-14,-13 L-4,-13.5 A8.6,13.6 0 0 1 -4,13.5 L-14,13 A8.6,13.3 0 0 1 -14,-13 Z" fill="#8a8a8a" stroke="#333" stroke-width="0.9"/><ellipse cx="-4" cy="0" rx="8.8" ry="13.6" fill="#fff" stroke="#333" stroke-width="0.9"/><ellipse cx="-3.5" cy="0.5" rx="6.8" ry="11.2" fill="#fff" stroke="#333" stroke-width="0.9"/></g>
<g transform="translate(579,712) rotate(22)"><path d="M-8,-14 L6,-14 L11,-10 L11,10 L6,14 L-8,14 L-13,9 L-13,-9 Z" fill="#fff" stroke="#333" stroke-width="0.9"/><ellipse cx="-2" cy="0" rx="8" ry="13.5" fill="none" stroke="#333" stroke-width="0.8"/><ellipse cx="4" cy="0" rx="6" ry="10" fill="#fff" stroke="#333" stroke-width="0.8"/></g>
<g transform="translate(587,718) rotate(26)"><rect x="0" y="-7.5" width="46" height="15" rx="2" fill="#2a2a2a"/><path d="M2.5,-7 A2,7 0 0 1 2.5,7" fill="none" stroke="#f4f4f4" stroke-width="1.7"/><path d="M6.2,-7 A2,7 0 0 1 6.2,7" fill="none" stroke="#f4f4f4" stroke-width="1.7"/><path d="M9.9,-7 A2,7 0 0 1 9.9,7" fill="none" stroke="#f4f4f4" stroke-width="1.7"/><path d="M13.6,-7 A2,7 0 0 1 13.6,7" fill="none" stroke="#f4f4f4" stroke-width="1.7"/><path d="M17.3,-7 A2,7 0 0 1 17.3,7" fill="none" stroke="#f4f4f4" stroke-width="1.7"/><path d="M21,-7 A2,7 0 0 1 21,7" fill="none" stroke="#f4f4f4" stroke-width="1.7"/><path d="M24.7,-7 A2,7 0 0 1 24.7,7" fill="none" stroke="#f4f4f4" stroke-width="1.7"/><path d="M28.4,-7 A2,7 0 0 1 28.4,7" fill="none" stroke="#f4f4f4" stroke-width="1.7"/><path d="M32.1,-7 A2,7 0 0 1 32.1,7" fill="none" stroke="#f4f4f4" stroke-width="1.7"/><path d="M35.8,-7 A2,7 0 0 1 35.8,7" fill="none" stroke="#f4f4f4" stroke-width="1.7"/><path d="M39.5,-7 A2,7 0 0 1 39.5,7" fill="none" stroke="#f4f4f4" stroke-width="1.7"/><path d="M43.2,-7 A2,7 0 0 1 43.2,7" fill="none" stroke="#f4f4f4" stroke-width="1.7"/></g>
<path d="M556,370.3 A35.6,19 0 0 1 627.2,370.3 L627.2,375.5 A35.6,19 0 0 1 556,375.5 Z" fill="#fff" stroke="#3a3a3a" stroke-width="0.9" />
<ellipse cx="591.6" cy="370.3" rx="35.6" ry="19" fill="none" stroke="#3a3a3a" stroke-width="0.9"/>
<ellipse cx="591.2" cy="373.4" rx="23.2" ry="9.5" fill="none" stroke="#3a3a3a" stroke-width="0.9"/>
<path d="M569,374.4 A22.2,8.8 0 0 0 613.4,374.4" fill="none" stroke="#3a3a3a" stroke-width="0.7" />
<path d="M571.4,362.6 L571.4,365.5 A15.8,8.7 0 0 0 603,365.5 L603,362.6" fill="#fff" stroke="#3a3a3a" stroke-width="0.9" />
<path d="M571.5,366.3 A15.7,8.4 0 0 0 602.9,366.3" fill="none" stroke="#3a3a3a" stroke-width="0.8" />
<ellipse cx="587.2" cy="362.6" rx="15.8" ry="8.7" fill="#fff" stroke="#3a3a3a" stroke-width="0.9"/>
<ellipse cx="587" cy="361.6" rx="10.3" ry="5.6" fill="none" stroke="#3a3a3a" stroke-width="0.9"/>
<path d="M577.2,364.6 A9.8,4 0 0 1 596.8,364.6" fill="none" stroke="#3a3a3a" stroke-width="0.7" />
<path d="M574.7,387 L577.5,402.5 A11.4,4.8 0 0 0 600.3,402.5 L603.2,387" fill="#fff" stroke="#3a3a3a" stroke-width="0.9" />
<path d="M578.8,394 L580.4,404 L582,394" fill="#555" stroke="#333" stroke-width="0.7" />
<path d="M587.3,394 L588.9,404 L590.5,394" fill="#555" stroke="#333" stroke-width="0.7" />
<path d="M595.8,394 L597.4,404 L599,394" fill="#555" stroke="#333" stroke-width="0.7" />
<ellipse cx="589" cy="387" rx="14.3" ry="7.3" fill="#444" stroke="#222" stroke-width="1.8"/>
<ellipse cx="588.7" cy="386.3" rx="12" ry="5.8" fill="#333" stroke="#fff" stroke-width="0.6"/>
<circle cx="597.5" cy="386.3" r="1" fill="#eee"/>
<circle cx="596.3" cy="388.4" r="1" fill="#eee"/>
<circle cx="593.1" cy="389.9" r="1" fill="#eee"/>
<circle cx="588.7" cy="390.5" r="1" fill="#eee"/>
<circle cx="584.3" cy="389.9" r="1" fill="#eee"/>
<circle cx="581.1" cy="388.4" r="1" fill="#eee"/>
<circle cx="579.9" cy="386.3" r="1" fill="#eee"/>
<circle cx="581.1" cy="384.2" r="1" fill="#eee"/>
<circle cx="584.3" cy="382.7" r="1" fill="#eee"/>
<circle cx="588.7" cy="382.1" r="1" fill="#eee"/>
<circle cx="593.1" cy="382.7" r="1" fill="#eee"/>
<circle cx="596.3" cy="384.2" r="1" fill="#eee"/>
<circle cx="593" cy="386.9" r="0.8" fill="#ddd"/>
<circle cx="589.7" cy="388.3" r="0.8" fill="#ddd"/>
<circle cx="585.4" cy="387.7" r="0.8" fill="#ddd"/>
<circle cx="584.4" cy="385.7" r="0.8" fill="#ddd"/>
<circle cx="587.7" cy="384.3" r="0.8" fill="#ddd"/>
<circle cx="592" cy="384.9" r="0.8" fill="#ddd"/>
<ellipse cx="588.4" cy="412.4" rx="12.5" ry="3.8" fill="none" stroke="#444" stroke-width="1.1"/>
<ellipse cx="588.4" cy="412.8" rx="10.8" ry="2.8" fill="none" stroke="#666" stroke-width="0.7"/>
<path d="M574.9,462 L574.9,508 A14.8,5.5 0 0 0 604.5,508 L604.5,462 Z" fill="#fff" stroke="#3a3a3a" stroke-width="0.9" />
<path d="M574.9,463 A14.8,5.5 0 0 0 604.5,463 M574.9,464.6 A14.8,5.5 0 0 0 604.5,464.6 M574.9,466.2 A14.8,5.5 0 0 0 604.5,466.2 M574.9,467.8 A14.8,5.5 0 0 0 604.5,467.8 M574.9,469.4 A14.8,5.5 0 0 0 604.5,469.4 M574.9,471 A14.8,5.5 0 0 0 604.5,471 M574.9,472.6 A14.8,5.5 0 0 0 604.5,472.6 M574.9,474.2 A14.8,5.5 0 0 0 604.5,474.2 M574.9,475.8 A14.8,5.5 0 0 0 604.5,475.8 M574.9,477.4 A14.8,5.5 0 0 0 604.5,477.4 M574.9,479 A14.8,5.5 0 0 0 604.5,479 M574.9,480.6 A14.8,5.5 0 0 0 604.5,480.6 M574.9,482.2 A14.8,5.5 0 0 0 604.5,482.2 M574.9,483.8 A14.8,5.5 0 0 0 604.5,483.8 M574.9,485.4 A14.8,5.5 0 0 0 604.5,485.4 M574.9,487 A14.8,5.5 0 0 0 604.5,487 M574.9,488.6 A14.8,5.5 0 0 0 604.5,488.6 M574.9,490.2 A14.8,5.5 0 0 0 604.5,490.2 M574.9,491.8 A14.8,5.5 0 0 0 604.5,491.8 M574.9,493.4 A14.8,5.5 0 0 0 604.5,493.4 M574.9,495 A14.8,5.5 0 0 0 604.5,495 M574.9,496.6 A14.8,5.5 0 0 0 604.5,496.6 M574.9,498.2 A14.8,5.5 0 0 0 604.5,498.2 M574.9,499.8 A14.8,5.5 0 0 0 604.5,499.8 M574.9,501.4 A14.8,5.5 0 0 0 604.5,501.4 M574.9,503 A14.8,5.5 0 0 0 604.5,503 M574.9,504.6 A14.8,5.5 0 0 0 604.5,504.6 M574.9,506.2 A14.8,5.5 0 0 0 604.5,506.2 M574.9,507.8 A14.8,5.5 0 0 0 604.5,507.8 " fill="none" stroke="#555" stroke-width="0.8" />
<path d="M575.3,455.5 L575.3,460.5 A14.3,5 0 0 0 603.9,460.5 L603.9,455.5 A14.3,5 0 0 1 575.3,455.5 Z" fill="#3a3a3a" stroke="#222" stroke-width="0.9" />
<path d="M577,440 L577,455 A13,4.6 0 0 0 605,455 L605,440" fill="#fff" stroke="#3a3a3a" stroke-width="0.9" />
<path d="M583.2,448 L583.2,453.5 L594.7,453.5 L594.7,448 Z" fill="#fff" stroke="#3a3a3a" stroke-width="0.8" />
<line x1="589" y1="448" x2="589" y2="453.5" stroke="#3a3a3a" stroke-width="0.7"/>
<path d="M585,442.4 L599,442.4 L599,446.6 L585,446.6" fill="none" stroke="#3a3a3a" stroke-width="0.8" />
<path d="M574.7,420 A16.7,6 0 0 1 608.1,420 L608.1,437 A16.7,6 0 0 1 574.7,437 Z" fill="#fff" stroke="#3a3a3a" stroke-width="0.9" />
<path d="M574.7,427 A16.7,6 0 0 0 608.1,427 L608.1,432.5 A16.7,6 0 0 1 574.7,432.5 Z" fill="#555" stroke="#333" stroke-width="0.8" />
<ellipse cx="591.4" cy="420" rx="16.7" ry="6.1" fill="none" stroke="#3a3a3a" stroke-width="0.9"/>
<ellipse cx="591.4" cy="420.4" rx="14.6" ry="5" fill="none" stroke="#3a3a3a" stroke-width="0.9"/>
<path d="M576.8,424.6 A14.6,4.6 0 0 0 606,424.6" fill="none" stroke="#555" stroke-width="1.2" />
<path d="M569.2,532.6 A23.3,13 0 0 1 615.8,532.6 L615.8,534.6 A23.3,13 0 0 1 569.2,534.6 Z" fill="#fff" stroke="#3a3a3a" stroke-width="0.9" />
<ellipse cx="592.5" cy="532.6" rx="23.3" ry="13" fill="none" stroke="#3a3a3a" stroke-width="0.9"/>
<ellipse cx="592.5" cy="532.6" rx="14.7" ry="8.8" fill="none" stroke="#3a3a3a" stroke-width="0.9"/>
<path d="M569.2,568.2 A23.3,13.2 0 0 1 615.8,568.2 L615.8,570.2 A23.3,13.2 0 0 1 569.2,570.2 Z" fill="#fff" stroke="#3a3a3a" stroke-width="0.9" />
<ellipse cx="592.5" cy="568.2" rx="23.3" ry="13.2" fill="none" stroke="#3a3a3a" stroke-width="0.9"/>
<ellipse cx="592.5" cy="568.2" rx="14.7" ry="8.8" fill="none" stroke="#3a3a3a" stroke-width="0.9"/>
<path d="M574.2,621.2 L583.2,627.9 A10,3 0 0 0 602,627.9 L612,620.5 Z" fill="#fff"/>
<path d="M574.2,621.2 L583.2,627.9 A10,3 0 0 0 602,627.9 L612,620.5" fill="none" stroke="#3a3a3a" stroke-width="0.9" />
<line x1="583.2" y1="623.9" x2="583.2" y2="627.9" stroke="#3a3a3a" stroke-width="0.8"/>
<line x1="602" y1="623.9" x2="602" y2="627.9" stroke="#3a3a3a" stroke-width="0.8"/>
<path d="M569.2,609.3 A23.4,13.2 0 0 1 616,609.3 L616,610.5 A23.4,13.2 0 0 1 569.2,610.5 Z" fill="#fff" stroke="#3a3a3a" stroke-width="0.9" />
<ellipse cx="592.6" cy="609.3" rx="23.4" ry="13.2" fill="none" stroke="#3a3a3a" stroke-width="0.9"/>
<path d="M578.1,609.3 A14.5,8.1 0 0 1 607.1,609.3 L605.1,614.2 A12.5,3.5 0 0 0 580.1,614.2 Z" fill="#a0a0a0" stroke="#222" stroke-width="0.9" />
<path d="M579.8,614.2 A12.8,4.5 0 0 1 605.4,614.2" fill="none" stroke="#444" stroke-width="0.6"/>
<path d="M579.4,614.2 A13.2,5.5 0 0 1 605.8,614.2" fill="none" stroke="#444" stroke-width="0.6"/>
<path d="M579.1,614.2 A13.5,6.5 0 0 1 606.1,614.2" fill="none" stroke="#444" stroke-width="0.6"/>
<path d="M578.7,614.2 A13.9,7.5 0 0 1 606.5,614.2" fill="none" stroke="#444" stroke-width="0.6"/>
<ellipse cx="592.6" cy="609.3" rx="14.5" ry="8.1" fill="none" stroke="#222" stroke-width="1.1"/>
<path d="M580.1,614.2 A12.5,3.5 0 0 0 605.1,614.2" fill="none" stroke="#3a3a3a" stroke-width="0.8" />
<path d="M741.9,131 A16.4,5 0 0 1 774.7,131 L774.7,353 A16.4,4 0 0 1 741.9,353 Z" fill="#fff" stroke="#3a3a3a" stroke-width="0.95" />
<ellipse cx="758.3" cy="131" rx="16.4" ry="5" fill="none" stroke="#3a3a3a" stroke-width="0.9"/>
<path d="M741.9,134.2 A16.4,5 0 0 0 774.7,134.2" fill="none" stroke="#555" stroke-width="0.7" />
<path d="M746.2,356.5 L746.2,362.5 A11.9,3.5 0 0 0 770.2,362.5 L770.2,356.5" fill="#fff" stroke="#3a3a3a" stroke-width="0.9" />
<path d="M746.3,356.5 A11.9,3.2 0 0 0 770.1,356.5 M746.3,357.9 A11.9,3.2 0 0 0 770.1,357.9 M746.3,359.3 A11.9,3.2 0 0 0 770.1,359.3 M746.3,360.7 A11.9,3.2 0 0 0 770.1,360.7 M746.3,362.1 A11.9,3.2 0 0 0 770.1,362.1 M746.3,363.5 A11.9,3.2 0 0 0 770.1,363.5 " fill="none" stroke="#333" stroke-width="0.9" />
<path d="M746.3,362.8 A11.9,3.4 0 0 0 770.1,362.8" fill="none" stroke="#222" stroke-width="1.8" />
<path d="M741.9,353 A16.4,4 0 0 0 774.7,353" fill="none" stroke="#3a3a3a" stroke-width="0.9" />
<path d="M775,147 C768,146.5 761,147 755.9,148 L755.9,212.6 C762,211.5 769,209.5 775,206.5" fill="#fff" stroke="#3a3a3a" stroke-width="0.9" />
<ellipse cx="762.8" cy="152.5" rx="1.55" ry="1.3" fill="#666" stroke="#222" stroke-width="0.7"/>
<ellipse cx="768" cy="151.9" rx="1.65" ry="1.3" fill="#666" stroke="#222" stroke-width="0.7"/>
<ellipse cx="772.4" cy="151.3" rx="1.55" ry="1.3" fill="#666" stroke="#222" stroke-width="0.7"/>
<ellipse cx="762.8" cy="158.7" rx="1.55" ry="1.3" fill="#666" stroke="#222" stroke-width="0.7"/>
<ellipse cx="768" cy="158.1" rx="1.65" ry="1.3" fill="#666" stroke="#222" stroke-width="0.7"/>
<ellipse cx="772.4" cy="157.5" rx="1.55" ry="1.3" fill="#666" stroke="#222" stroke-width="0.7"/>
<ellipse cx="762.8" cy="164.8" rx="1.55" ry="1.3" fill="#666" stroke="#222" stroke-width="0.7"/>
<ellipse cx="768" cy="164.2" rx="1.65" ry="1.3" fill="#666" stroke="#222" stroke-width="0.7"/>
<ellipse cx="772.4" cy="163.6" rx="1.55" ry="1.3" fill="#666" stroke="#222" stroke-width="0.7"/>
<ellipse cx="762.8" cy="170.9" rx="1.55" ry="1.3" fill="#666" stroke="#222" stroke-width="0.7"/>
<ellipse cx="768" cy="170.3" rx="1.65" ry="1.3" fill="#666" stroke="#222" stroke-width="0.7"/>
<ellipse cx="772.4" cy="169.8" rx="1.55" ry="1.3" fill="#666" stroke="#222" stroke-width="0.7"/>
<ellipse cx="762.8" cy="177.1" rx="1.55" ry="1.3" fill="#666" stroke="#222" stroke-width="0.7"/>
<ellipse cx="768" cy="176.5" rx="1.65" ry="1.3" fill="#666" stroke="#222" stroke-width="0.7"/>
<ellipse cx="772.4" cy="175.9" rx="1.55" ry="1.3" fill="#666" stroke="#222" stroke-width="0.7"/>
<ellipse cx="762.8" cy="183.2" rx="1.55" ry="1.3" fill="#666" stroke="#222" stroke-width="0.7"/>
<ellipse cx="768" cy="182.7" rx="1.65" ry="1.3" fill="#666" stroke="#222" stroke-width="0.7"/>
<ellipse cx="772.4" cy="182.1" rx="1.55" ry="1.3" fill="#666" stroke="#222" stroke-width="0.7"/>
<ellipse cx="762.8" cy="189.4" rx="1.55" ry="1.3" fill="#666" stroke="#222" stroke-width="0.7"/>
<ellipse cx="768" cy="188.8" rx="1.65" ry="1.3" fill="#666" stroke="#222" stroke-width="0.7"/>
<ellipse cx="772.4" cy="188.2" rx="1.55" ry="1.3" fill="#666" stroke="#222" stroke-width="0.7"/>
<ellipse cx="762.8" cy="195.6" rx="1.55" ry="1.3" fill="#666" stroke="#222" stroke-width="0.7"/>
<ellipse cx="768" cy="195" rx="1.65" ry="1.3" fill="#666" stroke="#222" stroke-width="0.7"/>
<ellipse cx="772.4" cy="194.4" rx="1.55" ry="1.3" fill="#666" stroke="#222" stroke-width="0.7"/>
<ellipse cx="762.8" cy="201.7" rx="1.55" ry="1.3" fill="#666" stroke="#222" stroke-width="0.7"/>
<ellipse cx="768" cy="201.1" rx="1.65" ry="1.3" fill="#666" stroke="#222" stroke-width="0.7"/>
<ellipse cx="772.4" cy="200.5" rx="1.55" ry="1.3" fill="#666" stroke="#222" stroke-width="0.7"/>
<ellipse cx="762.8" cy="207.8" rx="1.55" ry="1.3" fill="#666" stroke="#222" stroke-width="0.7"/>
<ellipse cx="768" cy="207.2" rx="1.65" ry="1.3" fill="#666" stroke="#222" stroke-width="0.7"/>
<ellipse cx="772.4" cy="206.7" rx="1.55" ry="1.3" fill="#666" stroke="#222" stroke-width="0.7"/>
<path d="M751.2,445.2 C752.5,448.4 766.5,446.2 767.8,442.8 C766.5,444.8 752.5,447 751.2,445.2 Z" fill="#f4f4f4" stroke="#2a2a2a" stroke-width="1.25"/><path d="M751.2,448.8 C752.5,452 766.5,449.8 767.8,446.4 C766.5,448.4 752.5,450.6 751.2,448.8 Z" fill="#f4f4f4" stroke="#2a2a2a" stroke-width="1.25"/><path d="M751.2,452.4 C752.5,455.6 766.5,453.4 767.8,450 C766.5,452 752.5,454.2 751.2,452.4 Z" fill="#f4f4f4" stroke="#2a2a2a" stroke-width="1.25"/><path d="M751.2,456 C752.5,459.2 766.5,457 767.8,453.6 C766.5,455.6 752.5,457.8 751.2,456 Z" fill="#f4f4f4" stroke="#2a2a2a" stroke-width="1.25"/><path d="M751.2,459.6 C752.5,462.8 766.5,460.6 767.8,457.2 C766.5,459.2 752.5,461.4 751.2,459.6 Z" fill="#f4f4f4" stroke="#2a2a2a" stroke-width="1.25"/><path d="M751.2,463.2 C752.5,466.4 766.5,464.2 767.8,460.8 C766.5,462.8 752.5,465 751.2,463.2 Z" fill="#f4f4f4" stroke="#2a2a2a" stroke-width="1.25"/><path d="M751.2,466.8 C752.5,470 766.5,467.8 767.8,464.4 C766.5,466.4 752.5,468.6 751.2,466.8 Z" fill="#f4f4f4" stroke="#2a2a2a" stroke-width="1.25"/><path d="M751.2,470.4 C752.5,473.6 766.5,471.4 767.8,468 C766.5,470 752.5,472.2 751.2,470.4 Z" fill="#f4f4f4" stroke="#2a2a2a" stroke-width="1.25"/><path d="M751.2,474 C752.5,477.2 766.5,475 767.8,471.6 C766.5,473.6 752.5,475.8 751.2,474 Z" fill="#f4f4f4" stroke="#2a2a2a" stroke-width="1.25"/><path d="M751.2,477.6 C752.5,480.8 766.5,478.6 767.8,475.2 C766.5,477.2 752.5,479.4 751.2,477.6 Z" fill="#f4f4f4" stroke="#2a2a2a" stroke-width="1.25"/><path d="M751.2,481.2 C752.5,484.4 766.5,482.2 767.8,478.8 C766.5,480.8 752.5,483 751.2,481.2 Z" fill="#f4f4f4" stroke="#2a2a2a" stroke-width="1.25"/><path d="M751.2,484.8 C752.5,488 766.5,485.8 767.8,482.4 C766.5,484.4 752.5,486.6 751.2,484.8 Z" fill="#f4f4f4" stroke="#2a2a2a" stroke-width="1.25"/><path d="M751.2,488.4 C752.5,491.6 766.5,489.4 767.8,486 C766.5,488 752.5,490.2 751.2,488.4 Z" fill="#f4f4f4" stroke="#2a2a2a" stroke-width="1.25"/><path d="M751.2,492 C752.5,495.2 766.5,493 767.8,489.6 C766.5,491.6 752.5,493.8 751.2,492 Z" fill="#f4f4f4" stroke="#2a2a2a" stroke-width="1.25"/>
<line x1="749.5" y1="494" x2="769.5" y2="493" stroke="#555" stroke-width="0.7"/>
<path d="M746.3,406 A12.9,3.9 0 0 1 772.1,406 L772.1,428.5 A12.9,3.9 0 0 1 746.3,428.5 Z" fill="#fff" stroke="#3a3a3a" stroke-width="0.9" />
<path d="M747.3,430 L747.8,440 A11.5,3.2 0 0 0 770.6,440 L771.1,430" fill="#fff" stroke="#3a3a3a" stroke-width="0.9" />
<ellipse cx="759.2" cy="406" rx="12.9" ry="3.9" fill="#fff" stroke="#3a3a3a" stroke-width="0.9"/>
<path d="M748,406.3 A11.2,3 0 0 1 770.4,406.3 A11.2,2.6 0 0 1 748,406.3 Z" fill="#9a9a9a" stroke="#333" stroke-width="0.8" />
<path d="M748.4,407.5 A10.8,2.2 0 0 1 770,407.5" fill="none" stroke="#444" stroke-width="0.5"/>
<path d="M748.4,407.5 A10.8,2.7 0 0 1 770,407.5" fill="none" stroke="#444" stroke-width="0.5"/>
<path d="M748.4,407.5 A10.8,3.2 0 0 1 770,407.5" fill="none" stroke="#444" stroke-width="0.5"/>
<path d="M746.3,427.5 A12.9,3.8 0 0 0 772.1,427.5" fill="none" stroke="#3a3a3a" stroke-width="0.9" />
<path d="M746.8,429.5 A12.4,3.6 0 0 0 771.6,429.5" fill="none" stroke="#3a3a3a" stroke-width="0.8" />
<path d="M762,441.5 L762,438.5 L767,437.8 L767,440.8" fill="none" stroke="#3a3a3a" stroke-width="0.7" />
<path d="M720.5,512.9 L754.1,503.4 L782.3,523.7 L777.1,557.8 L768.2,560 L757.1,555.6 L754.9,564.5 L747.4,566 L720.5,560.8 Z" fill="#fff" stroke="#3a3a3a" stroke-width="0.95" />
<path d="M735.6,509.7 C736.5,514 738,517 740,518.6 C743,521.5 746,523 749,524.5 L763.8,528.6" fill="none" stroke="#3a3a3a" stroke-width="0.8" />
<path d="M744.5,509 L746,520.5" fill="none" stroke="#555" stroke-width="0.7" />
<path d="M746.8,508.6 L748,521.5" fill="none" stroke="#777" stroke-width="0.6" />
<path d="M749,508.2 C754,509.5 759,511.5 762.3,514 C763.5,515.2 764.5,516.5 765.2,517.8" fill="none" stroke="#3a3a3a" stroke-width="0.8" />
<path d="M765.2,517.8 L777.1,523 L782.3,523.7" fill="none" stroke="#3a3a3a" stroke-width="0.85" />
<path d="M765.2,517.8 L767.5,557.5" fill="none" stroke="#3a3a3a" stroke-width="0.85" />
<path d="M774.5,524 L769.5,558.5" fill="none" stroke="#3a3a3a" stroke-width="0.8" />
<path d="M777.1,523 L772,558.6" fill="none" stroke="#666" stroke-width="0.7" />
<path d="M757.1,555.6 L768.2,560" fill="none" stroke="#3a3a3a" stroke-width="0.8" />
<path d="M757.6,553.8 L767.8,558" fill="none" stroke="#666" stroke-width="0.6" />
<path d="M720.5,512.9 L763.8,528.6 L758.6,530.4 L747.4,566 L720.5,560.8 Z" fill="#fff" stroke="#3a3a3a" stroke-width="0.95" />
<path d="M722.2,512.2 L764.5,527.6" fill="none" stroke="#555" stroke-width="0.7" />
<path d="M763.8,528.6 L754.9,564.5 L747.4,566" fill="none" stroke="#3a3a3a" stroke-width="0.9" />
<path d="M760.8,529.6 L750.5,565.5" fill="none" stroke="#666" stroke-width="0.6" />
<path d="M763.8,528.6 L757.1,555.6" fill="none" stroke="#3a3a3a" stroke-width="0.9" />
<line x1="526.3" y1="77.4" x2="509.4" y2="109.3" stroke="#3a3a3a" stroke-width="0.9"/>
<circle cx="532" cy="66.5" r="12.3" fill="none" stroke="#555" stroke-width="1"/>
<path d="M0.8,2.2 L3.6,0 L3.6,10" transform="translate(529.6,61.2) scale(0.783,0.960)" fill="none" stroke="#505050" stroke-width="0.95" vector-effect="non-scaling-stroke"/>
<line x1="473.3" y1="59.2" x2="457.2" y2="93.7" stroke="#3a3a3a" stroke-width="0.9"/>
<circle cx="478.5" cy="48.1" r="12.3" fill="none" stroke="#555" stroke-width="1"/>
<path d="M0.4,2.2 C0.9,0.6 1.9,0 3.1,0 C4.8,0 5.8,1.1 5.8,2.7 C5.8,4.4 4.6,5.6 0.2,10 L6,10" transform="translate(476.1,42.8) scale(0.783,0.960)" fill="none" stroke="#505050" stroke-width="0.95" vector-effect="non-scaling-stroke"/>
<line x1="357.8" y1="46.7" x2="391.7" y2="71.4" stroke="#3a3a3a" stroke-width="0.9"/>
<circle cx="347.8" cy="39.5" r="12.3" fill="none" stroke="#555" stroke-width="1"/>
<path d="M0.3,0 L5,0 Q5.8,0 5.8,0.8 L5.8,9.2 Q5.8,10 5,10 L0.3,10 M1.8,4.9 L5.8,4.9" transform="translate(345.4,34.2) scale(0.783,0.960)" fill="none" stroke="#505050" stroke-width="0.95" vector-effect="non-scaling-stroke"/>
<line x1="353.6" y1="127.7" x2="409.7" y2="137.7" stroke="#3a3a3a" stroke-width="0.9"/>
<circle cx="341.5" cy="125.6" r="12.3" fill="none" stroke="#555" stroke-width="1"/>
<path d="M4.6,10 L4.6,0 L0,7.2 L6,7.2" transform="translate(339.1,120.3) scale(0.783,0.960)" fill="none" stroke="#505050" stroke-width="0.95" vector-effect="non-scaling-stroke"/>
<line x1="354.1" y1="168.4" x2="404" y2="167" stroke="#3a3a3a" stroke-width="0.9"/>
<circle cx="341.8" cy="168.7" r="12.3" fill="none" stroke="#555" stroke-width="1"/>
<path d="M5.6,0 L0.9,0 L0.5,4.6 C1.3,3.9 2.2,3.7 3,3.7 C4.9,3.7 5.9,5 5.9,6.8 C5.9,8.8 4.8,10 3,10 C1.7,10 0.8,9.4 0.2,8.4" transform="translate(339.4,163.4) scale(0.783,0.960)" fill="none" stroke="#505050" stroke-width="0.95" vector-effect="non-scaling-stroke"/>
<line x1="350" y1="222.6" x2="400" y2="216.7" stroke="#3a3a3a" stroke-width="0.9"/>
<circle cx="337.8" cy="224" r="12.3" fill="none" stroke="#555" stroke-width="1"/>
<path d="M5.2,0.6 C4.6,0.2 3.9,0 3.1,0 C1.1,0 0.1,2.1 0.1,5.6 C0.1,8.5 1.2,10 3,10 C4.9,10 5.9,8.6 5.9,6.8 C5.9,5 4.8,3.8 3.1,3.8 C1.6,3.8 0.5,4.8 0.1,6" transform="translate(335.4,218.7) scale(0.783,0.960)" fill="none" stroke="#505050" stroke-width="0.95" vector-effect="non-scaling-stroke"/>
<line x1="351.8" y1="303.2" x2="395.6" y2="299.6" stroke="#3a3a3a" stroke-width="0.9"/>
<circle cx="339.5" cy="304.2" r="12.3" fill="none" stroke="#555" stroke-width="1"/>
<path d="M0,0 L6,0 L1.8,10" transform="translate(337.1,298.9) scale(0.783,0.960)" fill="none" stroke="#505050" stroke-width="0.95" vector-effect="non-scaling-stroke"/>
<line x1="349.5" y1="418.1" x2="382.8" y2="429" stroke="#3a3a3a" stroke-width="0.9"/>
<circle cx="337.8" cy="414.3" r="12.3" fill="none" stroke="#555" stroke-width="1"/>
<path d="M3,4.6 C1.4,4.6 0.5,3.7 0.5,2.3 C0.5,0.9 1.5,0 3,0 C4.5,0 5.5,0.9 5.5,2.3 C5.5,3.7 4.6,4.6 3,4.6 C1.2,4.6 0,5.6 0,7.3 C0,9 1.2,10 3,10 C4.8,10 6,9 6,7.3 C6,5.6 4.8,4.6 3,4.6 Z" transform="translate(335.4,409) scale(0.783,0.960)" fill="none" stroke="#505050" stroke-width="0.95" vector-effect="non-scaling-stroke"/>
<line x1="350.1" y1="467.2" x2="399" y2="468.7" stroke="#3a3a3a" stroke-width="0.9"/>
<circle cx="337.8" cy="466.8" r="12.3" fill="none" stroke="#555" stroke-width="1"/>
<path d="M0.8,9.4 C1.4,9.8 2.1,10 2.9,10 C4.9,10 5.9,7.9 5.9,4.4 C5.9,1.5 4.8,0 3,0 C1.1,0 0.1,1.4 0.1,3.2 C0.1,5 1.2,6.2 2.9,6.2 C4.4,6.2 5.5,5.2 5.9,4" transform="translate(335.4,461.5) scale(0.783,0.960)" fill="none" stroke="#505050" stroke-width="0.95" vector-effect="non-scaling-stroke"/>
<line x1="347.9" y1="520.6" x2="403" y2="523.4" stroke="#3a3a3a" stroke-width="0.9"/>
<circle cx="335.6" cy="520" r="12.3" fill="none" stroke="#555" stroke-width="1"/>
<path d="M0.8,2.2 L3.6,0 L3.6,10" transform="translate(330.2,514.7) scale(0.783,0.960)" fill="none" stroke="#505050" stroke-width="0.95" vector-effect="non-scaling-stroke"/>
<path d="M3,0 C0.6,0 0,2.2 0,5 C0,7.8 0.6,10 3,10 C5.4,10 6,7.8 6,5 C6,2.2 5.4,0 3,0 Z" transform="translate(336.2,514.7) scale(0.783,0.960)" fill="none" stroke="#505050" stroke-width="0.95" vector-effect="non-scaling-stroke"/>
<line x1="349.3" y1="573.9" x2="393.4" y2="576" stroke="#3a3a3a" stroke-width="0.9"/>
<circle cx="337" cy="573.3" r="12.3" fill="none" stroke="#555" stroke-width="1"/>
<path d="M0.8,2.2 L3.6,0 L3.6,10" transform="translate(331.6,568) scale(0.783,0.960)" fill="none" stroke="#505050" stroke-width="0.95" vector-effect="non-scaling-stroke"/>
<path d="M0.8,2.2 L3.6,0 L3.6,10" transform="translate(337.6,568) scale(0.783,0.960)" fill="none" stroke="#505050" stroke-width="0.95" vector-effect="non-scaling-stroke"/>
<line x1="349.2" y1="617.9" x2="394.7" y2="611.5" stroke="#3a3a3a" stroke-width="0.9"/>
<circle cx="337" cy="619.6" r="12.3" fill="none" stroke="#555" stroke-width="1"/>
<path d="M0.8,2.2 L3.6,0 L3.6,10" transform="translate(331.6,614.3) scale(0.783,0.960)" fill="none" stroke="#505050" stroke-width="0.95" vector-effect="non-scaling-stroke"/>
<path d="M0.4,2.2 C0.9,0.6 1.9,0 3.1,0 C4.8,0 5.8,1.1 5.8,2.7 C5.8,4.4 4.6,5.6 0.2,10 L6,10" transform="translate(337.6,614.3) scale(0.783,0.960)" fill="none" stroke="#505050" stroke-width="0.95" vector-effect="non-scaling-stroke"/>
<line x1="350.8" y1="662.8" x2="397" y2="654.5" stroke="#3a3a3a" stroke-width="0.9"/>
<circle cx="338.7" cy="665" r="12.3" fill="none" stroke="#555" stroke-width="1"/>
<path d="M0.8,2.2 L3.6,0 L3.6,10" transform="translate(333.3,659.7) scale(0.783,0.960)" fill="none" stroke="#505050" stroke-width="0.95" vector-effect="non-scaling-stroke"/>
<path d="M0.3,0 L5,0 Q5.8,0 5.8,0.8 L5.8,9.2 Q5.8,10 5,10 L0.3,10 M1.8,4.9 L5.8,4.9" transform="translate(339.3,659.7) scale(0.783,0.960)" fill="none" stroke="#505050" stroke-width="0.95" vector-effect="non-scaling-stroke"/>
<line x1="634.3" y1="359.3" x2="602.3" y2="362.3" stroke="#3a3a3a" stroke-width="0.9"/>
<circle cx="646.5" cy="358.2" r="12.3" fill="none" stroke="#555" stroke-width="1"/>
<path d="M0.8,2.2 L3.6,0 L3.6,10" transform="translate(641.1,352.9) scale(0.783,0.960)" fill="none" stroke="#505050" stroke-width="0.95" vector-effect="non-scaling-stroke"/>
<path d="M4.6,10 L4.6,0 L0,7.2 L6,7.2" transform="translate(647.1,352.9) scale(0.783,0.960)" fill="none" stroke="#505050" stroke-width="0.95" vector-effect="non-scaling-stroke"/>
<line x1="632.4" y1="401.1" x2="602.3" y2="399.3" stroke="#3a3a3a" stroke-width="0.9"/>
<circle cx="644.7" cy="401.8" r="12.3" fill="none" stroke="#555" stroke-width="1"/>
<path d="M0.8,2.2 L3.6,0 L3.6,10" transform="translate(639.4,396.5) scale(0.783,0.960)" fill="none" stroke="#505050" stroke-width="0.95" vector-effect="non-scaling-stroke"/>
<path d="M5.6,0 L0.9,0 L0.5,4.6 C1.3,3.9 2.2,3.7 3,3.7 C4.9,3.7 5.9,5 5.9,6.8 C5.9,8.8 4.8,10 3,10 C1.7,10 0.8,9.4 0.2,8.4" transform="translate(645.4,396.5) scale(0.783,0.960)" fill="none" stroke="#505050" stroke-width="0.95" vector-effect="non-scaling-stroke"/>
<line x1="629.1" y1="443.8" x2="599.4" y2="439.4" stroke="#3a3a3a" stroke-width="0.9"/>
<circle cx="641.3" cy="445.6" r="12.3" fill="none" stroke="#555" stroke-width="1"/>
<path d="M0.8,2.2 L3.6,0 L3.6,10" transform="translate(635.9,440.3) scale(0.783,0.960)" fill="none" stroke="#505050" stroke-width="0.95" vector-effect="non-scaling-stroke"/>
<path d="M5.2,0.6 C4.6,0.2 3.9,0 3.1,0 C1.1,0 0.1,2.1 0.1,5.6 C0.1,8.5 1.2,10 3,10 C4.9,10 5.9,8.6 5.9,6.8 C5.9,5 4.8,3.8 3.1,3.8 C1.6,3.8 0.5,4.8 0.1,6" transform="translate(641.9,440.3) scale(0.783,0.960)" fill="none" stroke="#505050" stroke-width="0.95" vector-effect="non-scaling-stroke"/>
<line x1="656.9" y1="141.5" x2="604.7" y2="150.2" stroke="#3a3a3a" stroke-width="0.9"/>
<circle cx="669" cy="139.5" r="12.3" fill="none" stroke="#555" stroke-width="1"/>
<path d="M0.8,2.2 L3.6,0 L3.6,10" transform="translate(663.6,134.2) scale(0.783,0.960)" fill="none" stroke="#505050" stroke-width="0.95" vector-effect="non-scaling-stroke"/>
<path d="M0,0 L6,0 L1.8,10" transform="translate(669.6,134.2) scale(0.783,0.960)" fill="none" stroke="#505050" stroke-width="0.95" vector-effect="non-scaling-stroke"/>
<line x1="480.7" y1="154.7" x2="538.9" y2="188.3" stroke="#3a3a3a" stroke-width="0.9"/>
<circle cx="470.1" cy="148.5" r="12.3" fill="none" stroke="#555" stroke-width="1"/>
<path d="M0.8,2.2 L3.6,0 L3.6,10" transform="translate(464.8,143.2) scale(0.783,0.960)" fill="none" stroke="#505050" stroke-width="0.95" vector-effect="non-scaling-stroke"/>
<path d="M3,4.6 C1.4,4.6 0.5,3.7 0.5,2.3 C0.5,0.9 1.5,0 3,0 C4.5,0 5.5,0.9 5.5,2.3 C5.5,3.7 4.6,4.6 3,4.6 C1.2,4.6 0,5.6 0,7.3 C0,9 1.2,10 3,10 C4.8,10 6,9 6,7.3 C6,5.6 4.8,4.6 3,4.6 Z" transform="translate(470.8,143.2) scale(0.783,0.960)" fill="none" stroke="#505050" stroke-width="0.95" vector-effect="non-scaling-stroke"/>
<line x1="484.4" y1="198.5" x2="543.2" y2="232.5" stroke="#3a3a3a" stroke-width="0.9"/>
<circle cx="473.8" cy="192.3" r="12.3" fill="none" stroke="#555" stroke-width="1"/>
<path d="M0.8,2.2 L3.6,0 L3.6,10" transform="translate(468.4,187) scale(0.783,0.960)" fill="none" stroke="#505050" stroke-width="0.95" vector-effect="non-scaling-stroke"/>
<path d="M0.8,9.4 C1.4,9.8 2.1,10 2.9,10 C4.9,10 5.9,7.9 5.9,4.4 C5.9,1.5 4.8,0 3,0 C1.1,0 0.1,1.4 0.1,3.2 C0.1,5 1.2,6.2 2.9,6.2 C4.4,6.2 5.5,5.2 5.9,4" transform="translate(474.4,187) scale(0.783,0.960)" fill="none" stroke="#505050" stroke-width="0.95" vector-effect="non-scaling-stroke"/>
<line x1="485.3" y1="237.3" x2="542" y2="258.4" stroke="#3a3a3a" stroke-width="0.9"/>
<circle cx="473.8" cy="233" r="12.3" fill="none" stroke="#555" stroke-width="1"/>
<path d="M0.4,2.2 C0.9,0.6 1.9,0 3.1,0 C4.8,0 5.8,1.1 5.8,2.7 C5.8,4.4 4.6,5.6 0.2,10 L6,10" transform="translate(468.4,227.7) scale(0.783,0.960)" fill="none" stroke="#505050" stroke-width="0.95" vector-effect="non-scaling-stroke"/>
<path d="M3,0 C0.6,0 0,2.2 0,5 C0,7.8 0.6,10 3,10 C5.4,10 6,7.8 6,5 C6,2.2 5.4,0 3,0 Z" transform="translate(474.4,227.7) scale(0.783,0.960)" fill="none" stroke="#505050" stroke-width="0.95" vector-effect="non-scaling-stroke"/>
<line x1="485.3" y1="321.3" x2="540" y2="341.5" stroke="#3a3a3a" stroke-width="0.9"/>
<circle cx="473.8" cy="317" r="12.3" fill="none" stroke="#555" stroke-width="1"/>
<path d="M0.4,2.2 C0.9,0.6 1.9,0 3.1,0 C4.8,0 5.8,1.1 5.8,2.7 C5.8,4.4 4.6,5.6 0.2,10 L6,10" transform="translate(468.4,311.7) scale(0.783,0.960)" fill="none" stroke="#505050" stroke-width="0.95" vector-effect="non-scaling-stroke"/>
<path d="M0.8,2.2 L3.6,0 L3.6,10" transform="translate(474.4,311.7) scale(0.783,0.960)" fill="none" stroke="#505050" stroke-width="0.95" vector-effect="non-scaling-stroke"/>
<line x1="485.5" y1="352.9" x2="540" y2="371" stroke="#3a3a3a" stroke-width="0.9"/>
<circle cx="473.8" cy="349" r="12.3" fill="none" stroke="#555" stroke-width="1"/>
<path d="M0.4,2.2 C0.9,0.6 1.9,0 3.1,0 C4.8,0 5.8,1.1 5.8,2.7 C5.8,4.4 4.6,5.6 0.2,10 L6,10" transform="translate(468.4,343.7) scale(0.783,0.960)" fill="none" stroke="#505050" stroke-width="0.95" vector-effect="non-scaling-stroke"/>
<path d="M0.4,2.2 C0.9,0.6 1.9,0 3.1,0 C4.8,0 5.8,1.1 5.8,2.7 C5.8,4.4 4.6,5.6 0.2,10 L6,10" transform="translate(474.4,343.7) scale(0.783,0.960)" fill="none" stroke="#505050" stroke-width="0.95" vector-effect="non-scaling-stroke"/>
<line x1="485.3" y1="394.8" x2="540" y2="415.6" stroke="#3a3a3a" stroke-width="0.9"/>
<circle cx="473.8" cy="390.4" r="12.3" fill="none" stroke="#555" stroke-width="1"/>
<path d="M0.4,2.2 C0.9,0.6 1.9,0 3.1,0 C4.8,0 5.8,1.1 5.8,2.7 C5.8,4.4 4.6,5.6 0.2,10 L6,10" transform="translate(468.4,385.1) scale(0.783,0.960)" fill="none" stroke="#505050" stroke-width="0.95" vector-effect="non-scaling-stroke"/>
<path d="M0.3,0 L5,0 Q5.8,0 5.8,0.8 L5.8,9.2 Q5.8,10 5,10 L0.3,10 M1.8,4.9 L5.8,4.9" transform="translate(474.4,385.1) scale(0.783,0.960)" fill="none" stroke="#505050" stroke-width="0.95" vector-effect="non-scaling-stroke"/>
<line x1="486" y1="428.7" x2="535.6" y2="421.6" stroke="#3a3a3a" stroke-width="0.9"/>
<circle cx="473.8" cy="430.5" r="12.3" fill="none" stroke="#555" stroke-width="1"/>
<path d="M0.4,2.2 C0.9,0.6 1.9,0 3.1,0 C4.8,0 5.8,1.1 5.8,2.7 C5.8,4.4 4.6,5.6 0.2,10 L6,10" transform="translate(468.4,425.2) scale(0.783,0.960)" fill="none" stroke="#505050" stroke-width="0.95" vector-effect="non-scaling-stroke"/>
<path d="M4.6,10 L4.6,0 L0,7.2 L6,7.2" transform="translate(474.4,425.2) scale(0.783,0.960)" fill="none" stroke="#505050" stroke-width="0.95" vector-effect="non-scaling-stroke"/>
<line x1="484.9" y1="466.2" x2="535.6" y2="442.3" stroke="#3a3a3a" stroke-width="0.9"/>
<circle cx="473.8" cy="471.4" r="12.3" fill="none" stroke="#555" stroke-width="1"/>
<path d="M0.4,2.2 C0.9,0.6 1.9,0 3.1,0 C4.8,0 5.8,1.1 5.8,2.7 C5.8,4.4 4.6,5.6 0.2,10 L6,10" transform="translate(468.4,466.1) scale(0.783,0.960)" fill="none" stroke="#505050" stroke-width="0.95" vector-effect="non-scaling-stroke"/>
<path d="M5.6,0 L0.9,0 L0.5,4.6 C1.3,3.9 2.2,3.7 3,3.7 C4.9,3.7 5.9,5 5.9,6.8 C5.9,8.8 4.8,10 3,10 C1.7,10 0.8,9.4 0.2,8.4" transform="translate(474.4,466.1) scale(0.783,0.960)" fill="none" stroke="#505050" stroke-width="0.95" vector-effect="non-scaling-stroke"/>
<line x1="484.8" y1="502.9" x2="534" y2="478" stroke="#3a3a3a" stroke-width="0.9"/>
<circle cx="473.8" cy="508.5" r="12.3" fill="none" stroke="#555" stroke-width="1"/>
<path d="M0.4,2.2 C0.9,0.6 1.9,0 3.1,0 C4.8,0 5.8,1.1 5.8,2.7 C5.8,4.4 4.6,5.6 0.2,10 L6,10" transform="translate(468.4,503.2) scale(0.783,0.960)" fill="none" stroke="#505050" stroke-width="0.95" vector-effect="non-scaling-stroke"/>
<path d="M5.2,0.6 C4.6,0.2 3.9,0 3.1,0 C1.1,0 0.1,2.1 0.1,5.6 C0.1,8.5 1.2,10 3,10 C4.9,10 5.9,8.6 5.9,6.8 C5.9,5 4.8,3.8 3.1,3.8 C1.6,3.8 0.5,4.8 0.1,6" transform="translate(474.4,503.2) scale(0.783,0.960)" fill="none" stroke="#505050" stroke-width="0.95" vector-effect="non-scaling-stroke"/>
<line x1="485.1" y1="541.6" x2="534.3" y2="524.4" stroke="#3a3a3a" stroke-width="0.9"/>
<circle cx="473.5" cy="545.6" r="12.3" fill="none" stroke="#555" stroke-width="1"/>
<path d="M0.4,2.2 C0.9,0.6 1.9,0 3.1,0 C4.8,0 5.8,1.1 5.8,2.7 C5.8,4.4 4.6,5.6 0.2,10 L6,10" transform="translate(468.1,540.3) scale(0.783,0.960)" fill="none" stroke="#505050" stroke-width="0.95" vector-effect="non-scaling-stroke"/>
<path d="M0,0 L6,0 L1.8,10" transform="translate(474.1,540.3) scale(0.783,0.960)" fill="none" stroke="#505050" stroke-width="0.95" vector-effect="non-scaling-stroke"/>
<line x1="485.1" y1="583.2" x2="535" y2="565.2" stroke="#3a3a3a" stroke-width="0.9"/>
<circle cx="473.5" cy="587.4" r="12.3" fill="none" stroke="#555" stroke-width="1"/>
<path d="M0.4,2.2 C0.9,0.6 1.9,0 3.1,0 C4.8,0 5.8,1.1 5.8,2.7 C5.8,4.4 4.6,5.6 0.2,10 L6,10" transform="translate(468.1,582.1) scale(0.783,0.960)" fill="none" stroke="#505050" stroke-width="0.95" vector-effect="non-scaling-stroke"/>
<path d="M3,4.6 C1.4,4.6 0.5,3.7 0.5,2.3 C0.5,0.9 1.5,0 3,0 C4.5,0 5.5,0.9 5.5,2.3 C5.5,3.7 4.6,4.6 3,4.6 C1.2,4.6 0,5.6 0,7.3 C0,9 1.2,10 3,10 C4.8,10 6,9 6,7.3 C6,5.6 4.8,4.6 3,4.6 Z" transform="translate(474.1,582.1) scale(0.783,0.960)" fill="none" stroke="#505050" stroke-width="0.95" vector-effect="non-scaling-stroke"/>
<line x1="485.1" y1="618.4" x2="535.6" y2="601" stroke="#3a3a3a" stroke-width="0.9"/>
<circle cx="473.5" cy="622.4" r="12.3" fill="none" stroke="#555" stroke-width="1"/>
<path d="M0.4,2.2 C0.9,0.6 1.9,0 3.1,0 C4.8,0 5.8,1.1 5.8,2.7 C5.8,4.4 4.6,5.6 0.2,10 L6,10" transform="translate(468.1,617.1) scale(0.783,0.960)" fill="none" stroke="#505050" stroke-width="0.95" vector-effect="non-scaling-stroke"/>
<path d="M0.8,9.4 C1.4,9.8 2.1,10 2.9,10 C4.9,10 5.9,7.9 5.9,4.4 C5.9,1.5 4.8,0 3,0 C1.1,0 0.1,1.4 0.1,3.2 C0.1,5 1.2,6.2 2.9,6.2 C4.4,6.2 5.5,5.2 5.9,4" transform="translate(474.1,617.1) scale(0.783,0.960)" fill="none" stroke="#505050" stroke-width="0.95" vector-effect="non-scaling-stroke"/>
<line x1="485" y1="660.6" x2="531.7" y2="643.4" stroke="#3a3a3a" stroke-width="0.9"/>
<circle cx="473.5" cy="664.8" r="12.3" fill="none" stroke="#555" stroke-width="1"/>
<path d="M0.3,0 L5,0 Q5.8,0 5.8,0.8 L5.8,9.2 Q5.8,10 5,10 L0.3,10 M1.8,4.9 L5.8,4.9" transform="translate(468.1,659.5) scale(0.783,0.960)" fill="none" stroke="#505050" stroke-width="0.95" vector-effect="non-scaling-stroke"/>
<path d="M3,0 C0.6,0 0,2.2 0,5 C0,7.8 0.6,10 3,10 C5.4,10 6,7.8 6,5 C6,2.2 5.4,0 3,0 Z" transform="translate(474.1,659.5) scale(0.783,0.960)" fill="none" stroke="#505050" stroke-width="0.95" vector-effect="non-scaling-stroke"/>
<line x1="485.1" y1="701" x2="534.3" y2="684" stroke="#3a3a3a" stroke-width="0.9"/>
<circle cx="473.5" cy="705" r="12.3" fill="none" stroke="#555" stroke-width="1"/>
<path d="M0.3,0 L5,0 Q5.8,0 5.8,0.8 L5.8,9.2 Q5.8,10 5,10 L0.3,10 M1.8,4.9 L5.8,4.9" transform="translate(468.1,699.7) scale(0.783,0.960)" fill="none" stroke="#505050" stroke-width="0.95" vector-effect="non-scaling-stroke"/>
<path d="M0.8,2.2 L3.6,0 L3.6,10" transform="translate(474.1,699.7) scale(0.783,0.960)" fill="none" stroke="#505050" stroke-width="0.95" vector-effect="non-scaling-stroke"/>
<line x1="808.3" y1="558.3" x2="778" y2="547.6" stroke="#3a3a3a" stroke-width="0.9"/>
<circle cx="819.9" cy="562.4" r="12.3" fill="none" stroke="#555" stroke-width="1"/>
<path d="M0.3,0 L5,0 Q5.8,0 5.8,0.8 L5.8,9.2 Q5.8,10 5,10 L0.3,10 M1.8,4.9 L5.8,4.9" transform="translate(814.5,557.1) scale(0.783,0.960)" fill="none" stroke="#505050" stroke-width="0.95" vector-effect="non-scaling-stroke"/>
<path d="M0.4,2.2 C0.9,0.6 1.9,0 3.1,0 C4.8,0 5.8,1.1 5.8,2.7 C5.8,4.4 4.6,5.6 0.2,10 L6,10" transform="translate(820.5,557.1) scale(0.783,0.960)" fill="none" stroke="#505050" stroke-width="0.95" vector-effect="non-scaling-stroke"/>
<line x1="808.3" y1="447.3" x2="771.4" y2="434.4" stroke="#3a3a3a" stroke-width="0.9"/>
<circle cx="819.9" cy="451.4" r="12.3" fill="none" stroke="#555" stroke-width="1"/>
<path d="M0.3,0 L5,0 Q5.8,0 5.8,0.8 L5.8,9.2 Q5.8,10 5,10 L0.3,10 M1.8,4.9 L5.8,4.9" transform="translate(814.5,446.1) scale(0.783,0.960)" fill="none" stroke="#505050" stroke-width="0.95" vector-effect="non-scaling-stroke"/>
<path d="M0.3,0 L5,0 Q5.8,0 5.8,0.8 L5.8,9.2 Q5.8,10 5,10 L0.3,10 M1.8,4.9 L5.8,4.9" transform="translate(820.5,446.1) scale(0.783,0.960)" fill="none" stroke="#505050" stroke-width="0.95" vector-effect="non-scaling-stroke"/>
<line x1="807" y1="283" x2="775" y2="272" stroke="#3a3a3a" stroke-width="0.9"/>
<circle cx="818.6" cy="287" r="12.3" fill="none" stroke="#555" stroke-width="1"/>
<path d="M0.3,0 L5,0 Q5.8,0 5.8,0.8 L5.8,9.2 Q5.8,10 5,10 L0.3,10 M1.8,4.9 L5.8,4.9" transform="translate(813.2,281.7) scale(0.783,0.960)" fill="none" stroke="#505050" stroke-width="0.95" vector-effect="non-scaling-stroke"/>
<path d="M4.6,10 L4.6,0 L0,7.2 L6,7.2" transform="translate(819.2,281.7) scale(0.783,0.960)" fill="none" stroke="#505050" stroke-width="0.95" vector-effect="non-scaling-stroke"/>
</svg>
</body></html>
